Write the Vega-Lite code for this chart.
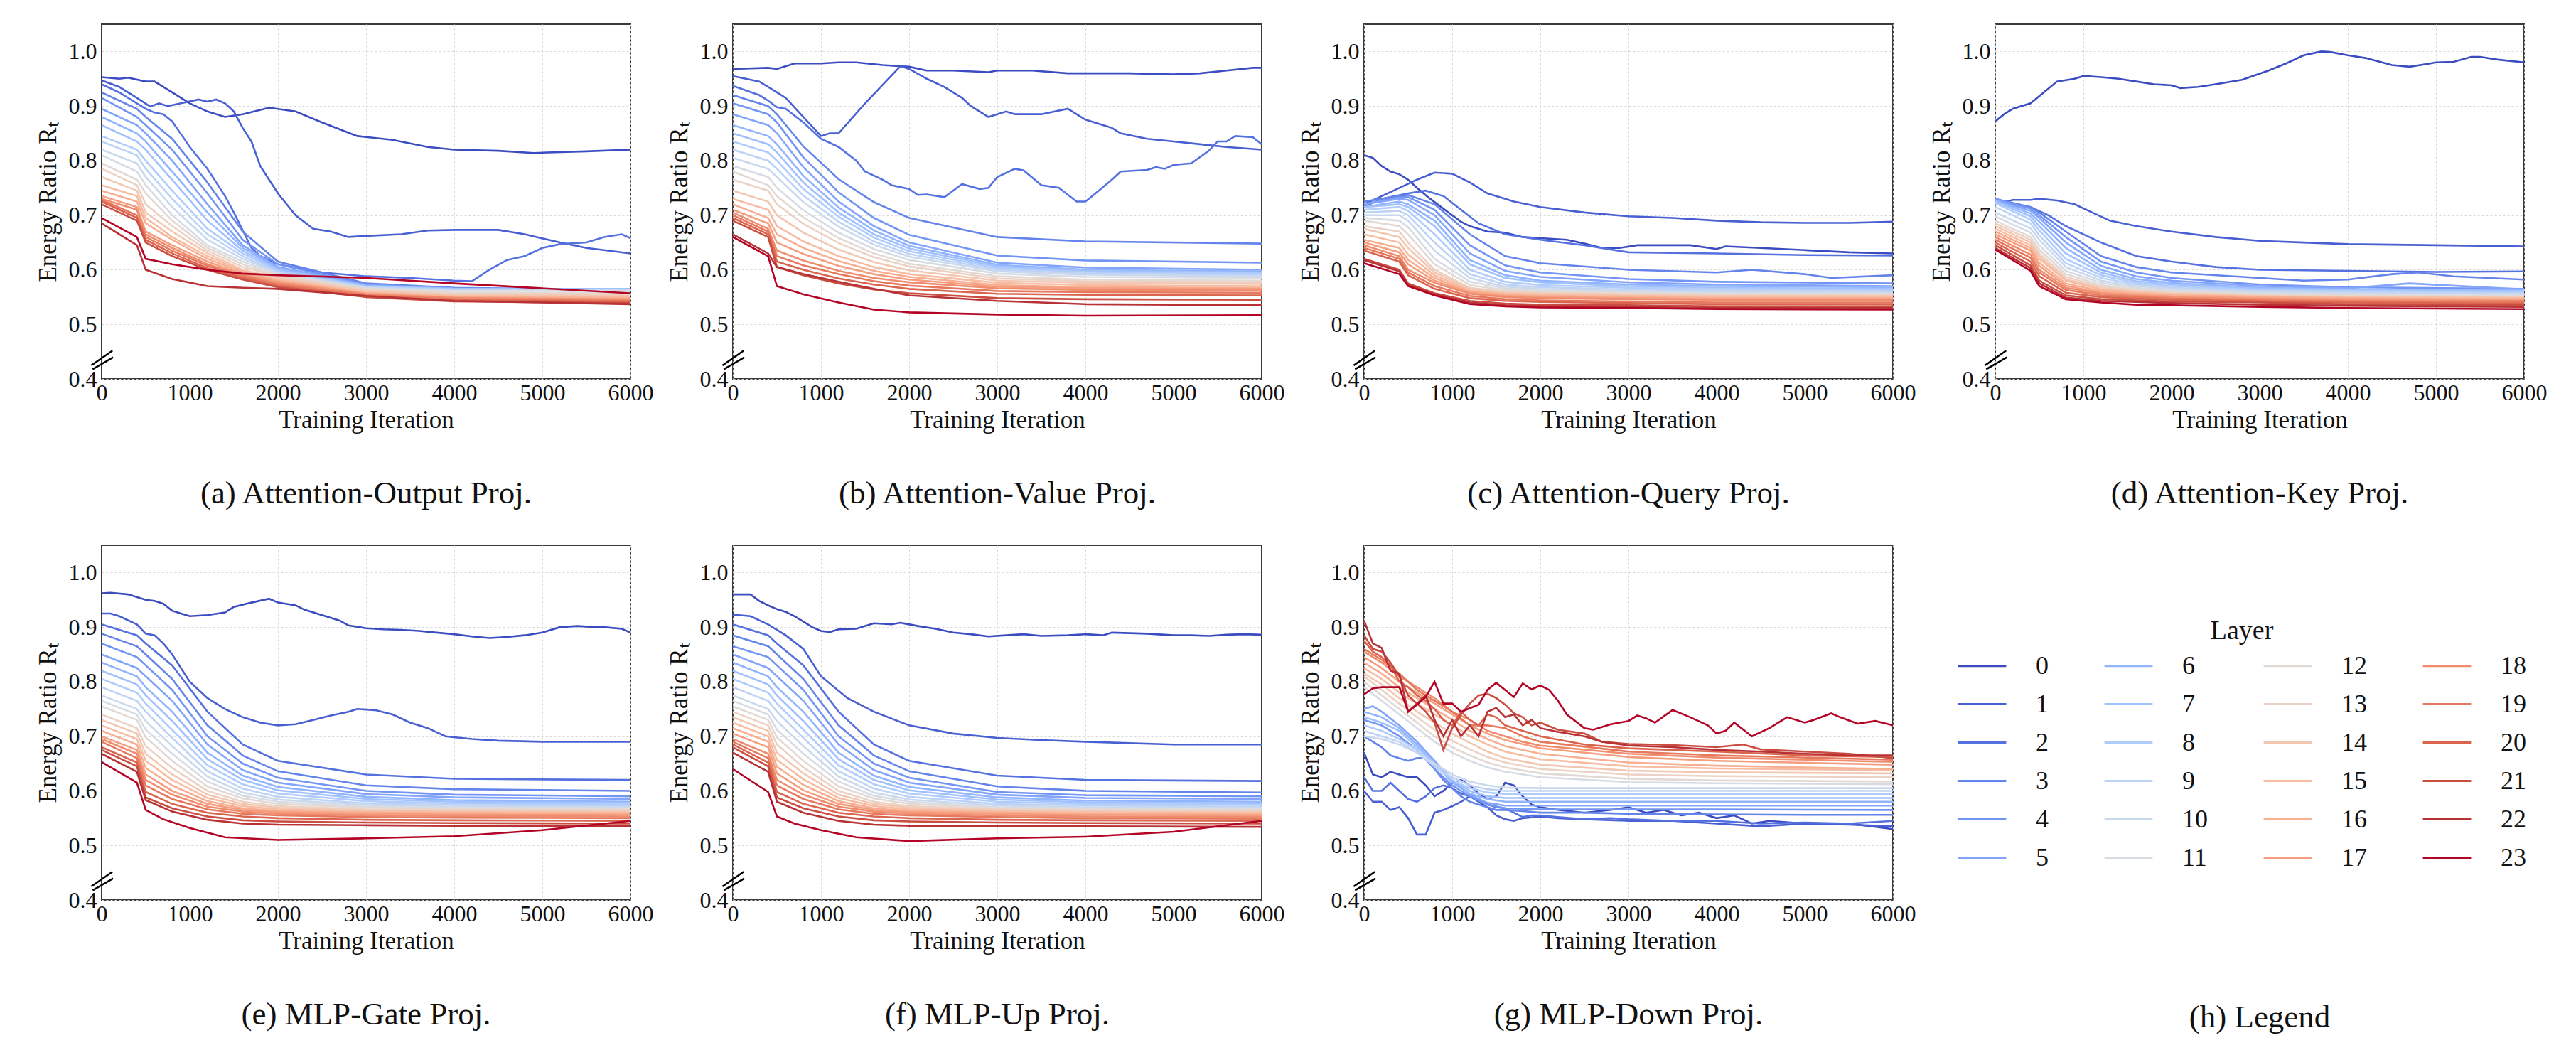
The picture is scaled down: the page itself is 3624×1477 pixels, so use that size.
{
"$schema":"https://vega.github.io/schema/vega-lite/v6.json",
"background":"white",
"padding":{"left":49,"top":33,"right":10,"bottom":10},
"config":{
"font":"Liberation Serif",
"view":{"stroke":"#3a3a3a","strokeWidth":2},
"axis":{"labelFont":"Liberation Serif","titleFont":"Liberation Serif","labelFontSize":32,"titleFontSize":35,"titleFontWeight":"normal","labelColor":"#111111","titleColor":"#111111","domain":false,"ticks":false,"grid":true,"gridColor":"#d9d9d9","gridDash":[3,3],"gridWidth":1,"labelFlush":false,"labelOverlap":false},
"title":{"font":"Liberation Serif","fontSize":45,"fontWeight":"normal","color":"#111111","orient":"bottom","offset":64,"anchor":"middle"},
"legend":{"labelFont":"Liberation Serif","titleFont":"Liberation Serif"}
},
"datasets":{
"brk":[{"x":-118,"y":0.4247,"x2":123,"y2":0.4517},{"x":-102,"y":0.4178,"x2":131,"y2":0.4395}],
"a":[
{"l":0,"x":0,"y":0.953},{"l":0,"x":200,"y":0.95},{"l":0,"x":300,"y":0.952},{"l":0,"x":500,"y":0.945},{"l":0,"x":600,"y":0.945},{"l":0,"x":800,"y":0.925},{"l":0,"x":1000,"y":0.905},{"l":0,"x":1200,"y":0.89},{"l":0,"x":1400,"y":0.88},{"l":0,"x":1600,"y":0.885},{"l":0,"x":1900,"y":0.897},{"l":0,"x":2200,"y":0.89},{"l":0,"x":2500,"y":0.87},{"l":0,"x":2900,"y":0.845},{"l":0,"x":3300,"y":0.838},{"l":0,"x":3700,"y":0.825},{"l":0,"x":4000,"y":0.82},{"l":0,"x":4500,"y":0.818},{"l":0,"x":4900,"y":0.814},{"l":0,"x":5500,"y":0.817},{"l":0,"x":6000,"y":0.82},
{"l":1,"x":0,"y":0.947},{"l":1,"x":200,"y":0.935},{"l":1,"x":400,"y":0.915},{"l":1,"x":550,"y":0.899},{"l":1,"x":650,"y":0.905},{"l":1,"x":750,"y":0.9},{"l":1,"x":900,"y":0.905},{"l":1,"x":1100,"y":0.912},{"l":1,"x":1200,"y":0.908},{"l":1,"x":1300,"y":0.912},{"l":1,"x":1400,"y":0.905},{"l":1,"x":1500,"y":0.89},{"l":1,"x":1600,"y":0.86},{"l":1,"x":1700,"y":0.835},{"l":1,"x":1800,"y":0.79},{"l":1,"x":2000,"y":0.74},{"l":1,"x":2200,"y":0.7},{"l":1,"x":2400,"y":0.675},{"l":1,"x":2600,"y":0.67},{"l":1,"x":2800,"y":0.66},{"l":1,"x":3000,"y":0.662},{"l":1,"x":3400,"y":0.665},{"l":1,"x":3700,"y":0.672},{"l":1,"x":4000,"y":0.673},{"l":1,"x":4500,"y":0.673},{"l":1,"x":4800,"y":0.665},{"l":1,"x":5200,"y":0.65},{"l":1,"x":5500,"y":0.64},{"l":1,"x":5700,"y":0.636},{"l":1,"x":6000,"y":0.63},
{"l":2,"x":0,"y":0.94},{"l":2,"x":200,"y":0.925},{"l":2,"x":400,"y":0.905},{"l":2,"x":500,"y":0.895},{"l":2,"x":600,"y":0.888},{"l":2,"x":700,"y":0.885},{"l":2,"x":800,"y":0.872},{"l":2,"x":1000,"y":0.825},{"l":2,"x":1200,"y":0.785},{"l":2,"x":1400,"y":0.735},{"l":2,"x":1500,"y":0.705},{"l":2,"x":1700,"y":0.64},{"l":2,"x":1800,"y":0.625},{"l":2,"x":2000,"y":0.61},{"l":2,"x":2500,"y":0.595},{"l":2,"x":3000,"y":0.588},{"l":2,"x":3500,"y":0.585},{"l":2,"x":4000,"y":0.58},{"l":2,"x":4200,"y":0.579},{"l":2,"x":4400,"y":0.6},{"l":2,"x":4600,"y":0.618},{"l":2,"x":4800,"y":0.625},{"l":2,"x":5000,"y":0.64},{"l":2,"x":5200,"y":0.647},{"l":2,"x":5500,"y":0.65},{"l":2,"x":5700,"y":0.66},{"l":2,"x":5900,"y":0.665},{"l":2,"x":6000,"y":0.658},
{"l":3,"x":0,"y":0.925},{"l":3,"x":400,"y":0.895},{"l":3,"x":500,"y":0.88},{"l":3,"x":800,"y":0.84},{"l":3,"x":1200,"y":0.76},{"l":3,"x":1600,"y":0.67},{"l":3,"x":2000,"y":0.615},{"l":3,"x":3000,"y":0.575},{"l":3,"x":4000,"y":0.567},{"l":3,"x":6000,"y":0.563},
{"l":4,"x":0,"y":0.915},{"l":4,"x":400,"y":0.88},{"l":4,"x":500,"y":0.865},{"l":4,"x":800,"y":0.82},{"l":4,"x":1200,"y":0.74},{"l":4,"x":1600,"y":0.655},{"l":4,"x":2000,"y":0.61},{"l":4,"x":3000,"y":0.573},{"l":4,"x":4000,"y":0.566},{"l":4,"x":6000,"y":0.562},
{"l":5,"x":0,"y":0.895},{"l":5,"x":400,"y":0.865},{"l":5,"x":500,"y":0.85},{"l":5,"x":800,"y":0.8},{"l":5,"x":1200,"y":0.72},{"l":5,"x":1600,"y":0.645},{"l":5,"x":2000,"y":0.605},{"l":5,"x":3000,"y":0.572},{"l":5,"x":4000,"y":0.565},{"l":5,"x":6000,"y":0.562},
{"l":6,"x":0,"y":0.88},{"l":6,"x":400,"y":0.85},{"l":6,"x":500,"y":0.835},{"l":6,"x":800,"y":0.78},{"l":6,"x":1200,"y":0.705},{"l":6,"x":1600,"y":0.64},{"l":6,"x":2000,"y":0.603},{"l":6,"x":3000,"y":0.571},{"l":6,"x":4000,"y":0.565},{"l":6,"x":6000,"y":0.564},
{"l":7,"x":0,"y":0.865},{"l":7,"x":400,"y":0.835},{"l":7,"x":500,"y":0.82},{"l":7,"x":800,"y":0.765},{"l":7,"x":1200,"y":0.69},{"l":7,"x":1600,"y":0.635},{"l":7,"x":2000,"y":0.6},{"l":7,"x":3000,"y":0.57},{"l":7,"x":4000,"y":0.565},{"l":7,"x":6000,"y":0.565},
{"l":8,"x":0,"y":0.845},{"l":8,"x":400,"y":0.82},{"l":8,"x":500,"y":0.8},{"l":8,"x":800,"y":0.745},{"l":8,"x":1200,"y":0.675},{"l":8,"x":1600,"y":0.63},{"l":8,"x":2000,"y":0.598},{"l":8,"x":3000,"y":0.569},{"l":8,"x":4000,"y":0.564},{"l":8,"x":6000,"y":0.563},
{"l":9,"x":0,"y":0.835},{"l":9,"x":400,"y":0.81},{"l":9,"x":500,"y":0.785},{"l":9,"x":800,"y":0.73},{"l":9,"x":1200,"y":0.665},{"l":9,"x":1600,"y":0.625},{"l":9,"x":2000,"y":0.595},{"l":9,"x":3000,"y":0.568},{"l":9,"x":4000,"y":0.563},{"l":9,"x":6000,"y":0.562},
{"l":10,"x":0,"y":0.82},{"l":10,"x":400,"y":0.795},{"l":10,"x":500,"y":0.77},{"l":10,"x":800,"y":0.715},{"l":10,"x":1200,"y":0.655},{"l":10,"x":1600,"y":0.62},{"l":10,"x":2000,"y":0.594},{"l":10,"x":3000,"y":0.567},{"l":10,"x":4000,"y":0.562},{"l":10,"x":6000,"y":0.562},
{"l":11,"x":0,"y":0.81},{"l":11,"x":400,"y":0.78},{"l":11,"x":500,"y":0.755},{"l":11,"x":800,"y":0.7},{"l":11,"x":1200,"y":0.645},{"l":11,"x":1600,"y":0.615},{"l":11,"x":2000,"y":0.592},{"l":11,"x":3000,"y":0.566},{"l":11,"x":4000,"y":0.561},{"l":11,"x":6000,"y":0.561},
{"l":12,"x":0,"y":0.795},{"l":12,"x":400,"y":0.765},{"l":12,"x":500,"y":0.74},{"l":12,"x":800,"y":0.69},{"l":12,"x":1200,"y":0.64},{"l":12,"x":1600,"y":0.61},{"l":12,"x":2000,"y":0.59},{"l":12,"x":3000,"y":0.565},{"l":12,"x":4000,"y":0.558},{"l":12,"x":6000,"y":0.557},
{"l":13,"x":0,"y":0.785},{"l":13,"x":400,"y":0.755},{"l":13,"x":500,"y":0.72},{"l":13,"x":800,"y":0.68},{"l":13,"x":1200,"y":0.635},{"l":13,"x":1600,"y":0.605},{"l":13,"x":2000,"y":0.588},{"l":13,"x":3000,"y":0.563},{"l":13,"x":4000,"y":0.556},{"l":13,"x":6000,"y":0.555},
{"l":14,"x":0,"y":0.77},{"l":14,"x":400,"y":0.745},{"l":14,"x":500,"y":0.705},{"l":14,"x":800,"y":0.67},{"l":14,"x":1200,"y":0.63},{"l":14,"x":1600,"y":0.6},{"l":14,"x":2000,"y":0.585},{"l":14,"x":3000,"y":0.561},{"l":14,"x":4000,"y":0.554},{"l":14,"x":6000,"y":0.552},
{"l":15,"x":0,"y":0.755},{"l":15,"x":400,"y":0.735},{"l":15,"x":500,"y":0.695},{"l":15,"x":800,"y":0.66},{"l":15,"x":1200,"y":0.625},{"l":15,"x":1600,"y":0.598},{"l":15,"x":2000,"y":0.582},{"l":15,"x":3000,"y":0.559},{"l":15,"x":4000,"y":0.552},{"l":15,"x":6000,"y":0.55},
{"l":16,"x":0,"y":0.745},{"l":16,"x":400,"y":0.725},{"l":16,"x":500,"y":0.685},{"l":16,"x":800,"y":0.655},{"l":16,"x":1200,"y":0.62},{"l":16,"x":1600,"y":0.595},{"l":16,"x":2000,"y":0.58},{"l":16,"x":3000,"y":0.557},{"l":16,"x":4000,"y":0.55},{"l":16,"x":6000,"y":0.548},
{"l":17,"x":0,"y":0.735},{"l":17,"x":400,"y":0.715},{"l":17,"x":500,"y":0.67},{"l":17,"x":800,"y":0.645},{"l":17,"x":1200,"y":0.615},{"l":17,"x":1600,"y":0.592},{"l":17,"x":2000,"y":0.578},{"l":17,"x":3000,"y":0.556},{"l":17,"x":4000,"y":0.549},{"l":17,"x":6000,"y":0.546},
{"l":18,"x":0,"y":0.73},{"l":18,"x":400,"y":0.71},{"l":18,"x":500,"y":0.665},{"l":18,"x":800,"y":0.64},{"l":18,"x":1200,"y":0.61},{"l":18,"x":1600,"y":0.59},{"l":18,"x":2000,"y":0.575},{"l":18,"x":3000,"y":0.555},{"l":18,"x":4000,"y":0.548},{"l":18,"x":6000,"y":0.545},
{"l":19,"x":0,"y":0.728},{"l":19,"x":400,"y":0.7},{"l":19,"x":500,"y":0.66},{"l":19,"x":800,"y":0.635},{"l":19,"x":1200,"y":0.607},{"l":19,"x":1600,"y":0.588},{"l":19,"x":2000,"y":0.573},{"l":19,"x":3000,"y":0.553},{"l":19,"x":4000,"y":0.546},{"l":19,"x":6000,"y":0.543},
{"l":20,"x":0,"y":0.725},{"l":20,"x":400,"y":0.695},{"l":20,"x":500,"y":0.655},{"l":20,"x":800,"y":0.63},{"l":20,"x":1200,"y":0.603},{"l":20,"x":1600,"y":0.585},{"l":20,"x":2000,"y":0.57},{"l":20,"x":3000,"y":0.551},{"l":20,"x":4000,"y":0.544},{"l":20,"x":6000,"y":0.541},
{"l":21,"x":0,"y":0.72},{"l":21,"x":400,"y":0.69},{"l":21,"x":500,"y":0.65},{"l":21,"x":800,"y":0.625},{"l":21,"x":1200,"y":0.6},{"l":21,"x":1600,"y":0.582},{"l":21,"x":2000,"y":0.568},{"l":21,"x":3000,"y":0.55},{"l":21,"x":4000,"y":0.542},{"l":21,"x":6000,"y":0.539},
{"l":22,"x":0,"y":0.685},{"l":22,"x":400,"y":0.645},{"l":22,"x":500,"y":0.6},{"l":22,"x":800,"y":0.583},{"l":22,"x":1200,"y":0.57},{"l":22,"x":1600,"y":0.567},{"l":22,"x":2000,"y":0.565},{"l":22,"x":3000,"y":0.552},{"l":22,"x":4000,"y":0.543},{"l":22,"x":6000,"y":0.537},
{"l":23,"x":0,"y":0.695},{"l":23,"x":400,"y":0.66},{"l":23,"x":500,"y":0.62},{"l":23,"x":800,"y":0.61},{"l":23,"x":1200,"y":0.6},{"l":23,"x":1600,"y":0.593},{"l":23,"x":2000,"y":0.59},{"l":23,"x":3000,"y":0.585},{"l":23,"x":4000,"y":0.575},{"l":23,"x":6000,"y":0.557}
],
"b":[
{"l":0,"x":0,"y":0.968},{"l":0,"x":400,"y":0.97},{"l":0,"x":500,"y":0.968},{"l":0,"x":700,"y":0.978},{"l":0,"x":1000,"y":0.978},{"l":0,"x":1200,"y":0.98},{"l":0,"x":1400,"y":0.98},{"l":0,"x":1700,"y":0.975},{"l":0,"x":2000,"y":0.972},{"l":0,"x":2200,"y":0.965},{"l":0,"x":2500,"y":0.965},{"l":0,"x":2900,"y":0.962},{"l":0,"x":3000,"y":0.965},{"l":0,"x":3400,"y":0.965},{"l":0,"x":3800,"y":0.96},{"l":0,"x":4500,"y":0.96},{"l":0,"x":5000,"y":0.958},{"l":0,"x":5300,"y":0.96},{"l":0,"x":5600,"y":0.965},{"l":0,"x":5900,"y":0.97},{"l":0,"x":6000,"y":0.97},
{"l":1,"x":0,"y":0.955},{"l":1,"x":300,"y":0.945},{"l":1,"x":500,"y":0.925},{"l":1,"x":600,"y":0.915},{"l":1,"x":800,"y":0.88},{"l":1,"x":1000,"y":0.845},{"l":1,"x":1100,"y":0.85},{"l":1,"x":1200,"y":0.85},{"l":1,"x":1500,"y":0.905},{"l":1,"x":1900,"y":0.973},{"l":1,"x":2000,"y":0.968},{"l":1,"x":2200,"y":0.95},{"l":1,"x":2400,"y":0.935},{"l":1,"x":2600,"y":0.915},{"l":1,"x":2700,"y":0.9},{"l":1,"x":2900,"y":0.88},{"l":1,"x":3100,"y":0.89},{"l":1,"x":3200,"y":0.885},{"l":1,"x":3500,"y":0.885},{"l":1,"x":3800,"y":0.895},{"l":1,"x":4000,"y":0.875},{"l":1,"x":4200,"y":0.865},{"l":1,"x":4300,"y":0.86},{"l":1,"x":4400,"y":0.85},{"l":1,"x":4700,"y":0.84},{"l":1,"x":5000,"y":0.835},{"l":1,"x":5300,"y":0.83},{"l":1,"x":5600,"y":0.825},{"l":1,"x":6000,"y":0.82},
{"l":2,"x":0,"y":0.937},{"l":2,"x":300,"y":0.92},{"l":2,"x":400,"y":0.91},{"l":2,"x":500,"y":0.898},{"l":2,"x":600,"y":0.895},{"l":2,"x":800,"y":0.87},{"l":2,"x":1000,"y":0.84},{"l":2,"x":1200,"y":0.825},{"l":2,"x":1400,"y":0.8},{"l":2,"x":1500,"y":0.78},{"l":2,"x":1700,"y":0.765},{"l":2,"x":1800,"y":0.755},{"l":2,"x":2000,"y":0.748},{"l":2,"x":2100,"y":0.737},{"l":2,"x":2200,"y":0.738},{"l":2,"x":2400,"y":0.733},{"l":2,"x":2600,"y":0.757},{"l":2,"x":2800,"y":0.748},{"l":2,"x":2900,"y":0.75},{"l":2,"x":3000,"y":0.77},{"l":2,"x":3200,"y":0.785},{"l":2,"x":3300,"y":0.782},{"l":2,"x":3500,"y":0.755},{"l":2,"x":3700,"y":0.75},{"l":2,"x":3900,"y":0.725},{"l":2,"x":4000,"y":0.725},{"l":2,"x":4100,"y":0.738},{"l":2,"x":4300,"y":0.765},{"l":2,"x":4400,"y":0.78},{"l":2,"x":4700,"y":0.783},{"l":2,"x":4800,"y":0.788},{"l":2,"x":4900,"y":0.785},{"l":2,"x":5000,"y":0.792},{"l":2,"x":5200,"y":0.795},{"l":2,"x":5400,"y":0.818},{"l":2,"x":5500,"y":0.835},{"l":2,"x":5600,"y":0.835},{"l":2,"x":5700,"y":0.845},{"l":2,"x":5900,"y":0.843},{"l":2,"x":6000,"y":0.83},
{"l":3,"x":0,"y":0.92},{"l":3,"x":400,"y":0.9},{"l":3,"x":500,"y":0.885},{"l":3,"x":800,"y":0.826},{"l":3,"x":1200,"y":0.766},{"l":3,"x":1600,"y":0.724},{"l":3,"x":2000,"y":0.695},{"l":3,"x":3000,"y":0.66},{"l":3,"x":4000,"y":0.652},{"l":3,"x":6000,"y":0.648},
{"l":4,"x":0,"y":0.905},{"l":4,"x":400,"y":0.885},{"l":4,"x":500,"y":0.87},{"l":4,"x":800,"y":0.806},{"l":4,"x":1200,"y":0.742},{"l":4,"x":1600,"y":0.695},{"l":4,"x":2000,"y":0.664},{"l":4,"x":3000,"y":0.626},{"l":4,"x":4000,"y":0.617},{"l":4,"x":6000,"y":0.613},
{"l":5,"x":0,"y":0.885},{"l":5,"x":400,"y":0.865},{"l":5,"x":500,"y":0.85},{"l":5,"x":800,"y":0.788},{"l":5,"x":1200,"y":0.725},{"l":5,"x":1600,"y":0.68},{"l":5,"x":2000,"y":0.65},{"l":5,"x":3000,"y":0.613},{"l":5,"x":4000,"y":0.604},{"l":5,"x":6000,"y":0.6},
{"l":6,"x":0,"y":0.865},{"l":6,"x":400,"y":0.845},{"l":6,"x":500,"y":0.83},{"l":6,"x":800,"y":0.772},{"l":6,"x":1200,"y":0.714},{"l":6,"x":1600,"y":0.672},{"l":6,"x":2000,"y":0.644},{"l":6,"x":3000,"y":0.609},{"l":6,"x":4000,"y":0.6},{"l":6,"x":6000,"y":0.597},
{"l":7,"x":0,"y":0.85},{"l":7,"x":400,"y":0.83},{"l":7,"x":500,"y":0.815},{"l":7,"x":800,"y":0.76},{"l":7,"x":1200,"y":0.705},{"l":7,"x":1600,"y":0.665},{"l":7,"x":2000,"y":0.639},{"l":7,"x":3000,"y":0.606},{"l":7,"x":4000,"y":0.598},{"l":7,"x":6000,"y":0.595},
{"l":8,"x":0,"y":0.835},{"l":8,"x":400,"y":0.815},{"l":8,"x":500,"y":0.8},{"l":8,"x":800,"y":0.748},{"l":8,"x":1200,"y":0.697},{"l":8,"x":1600,"y":0.659},{"l":8,"x":2000,"y":0.634},{"l":8,"x":3000,"y":0.603},{"l":8,"x":4000,"y":0.596},{"l":8,"x":6000,"y":0.593},
{"l":9,"x":0,"y":0.82},{"l":9,"x":400,"y":0.8},{"l":9,"x":500,"y":0.785},{"l":9,"x":800,"y":0.736},{"l":9,"x":1200,"y":0.688},{"l":9,"x":1600,"y":0.652},{"l":9,"x":2000,"y":0.629},{"l":9,"x":3000,"y":0.6},{"l":9,"x":4000,"y":0.593},{"l":9,"x":6000,"y":0.59},
{"l":10,"x":0,"y":0.805},{"l":10,"x":400,"y":0.785},{"l":10,"x":500,"y":0.77},{"l":10,"x":800,"y":0.724},{"l":10,"x":1200,"y":0.679},{"l":10,"x":1600,"y":0.646},{"l":10,"x":2000,"y":0.624},{"l":10,"x":3000,"y":0.597},{"l":10,"x":4000,"y":0.591},{"l":10,"x":6000,"y":0.588},
{"l":11,"x":0,"y":0.79},{"l":11,"x":400,"y":0.77},{"l":11,"x":500,"y":0.75},{"l":11,"x":800,"y":0.709},{"l":11,"x":1200,"y":0.668},{"l":11,"x":1600,"y":0.638},{"l":11,"x":2000,"y":0.618},{"l":11,"x":3000,"y":0.593},{"l":11,"x":4000,"y":0.587},{"l":11,"x":6000,"y":0.585},
{"l":12,"x":0,"y":0.78},{"l":12,"x":400,"y":0.755},{"l":12,"x":500,"y":0.735},{"l":12,"x":800,"y":0.696},{"l":12,"x":1200,"y":0.658},{"l":12,"x":1600,"y":0.63},{"l":12,"x":2000,"y":0.611},{"l":12,"x":3000,"y":0.588},{"l":12,"x":4000,"y":0.582},{"l":12,"x":6000,"y":0.58},
{"l":13,"x":0,"y":0.765},{"l":13,"x":400,"y":0.745},{"l":13,"x":500,"y":0.72},{"l":13,"x":800,"y":0.684},{"l":13,"x":1200,"y":0.649},{"l":13,"x":1600,"y":0.623},{"l":13,"x":2000,"y":0.606},{"l":13,"x":3000,"y":0.584},{"l":13,"x":4000,"y":0.579},{"l":13,"x":6000,"y":0.577},
{"l":14,"x":0,"y":0.745},{"l":14,"x":400,"y":0.725},{"l":14,"x":500,"y":0.7},{"l":14,"x":800,"y":0.668},{"l":14,"x":1200,"y":0.637},{"l":14,"x":1600,"y":0.614},{"l":14,"x":2000,"y":0.599},{"l":14,"x":3000,"y":0.58},{"l":14,"x":4000,"y":0.576},{"l":14,"x":6000,"y":0.574},
{"l":15,"x":0,"y":0.73},{"l":15,"x":400,"y":0.71},{"l":15,"x":500,"y":0.68},{"l":15,"x":800,"y":0.652},{"l":15,"x":1200,"y":0.625},{"l":15,"x":1600,"y":0.605},{"l":15,"x":2000,"y":0.592},{"l":15,"x":3000,"y":0.576},{"l":15,"x":4000,"y":0.572},{"l":15,"x":6000,"y":0.57},
{"l":16,"x":0,"y":0.72},{"l":16,"x":400,"y":0.695},{"l":16,"x":500,"y":0.665},{"l":16,"x":800,"y":0.64},{"l":16,"x":1200,"y":0.616},{"l":16,"x":1600,"y":0.598},{"l":16,"x":2000,"y":0.587},{"l":16,"x":3000,"y":0.572},{"l":16,"x":4000,"y":0.568},{"l":16,"x":6000,"y":0.567},
{"l":17,"x":0,"y":0.71},{"l":17,"x":400,"y":0.685},{"l":17,"x":500,"y":0.65},{"l":17,"x":800,"y":0.629},{"l":17,"x":1200,"y":0.607},{"l":17,"x":1600,"y":0.592},{"l":17,"x":2000,"y":0.582},{"l":17,"x":3000,"y":0.569},{"l":17,"x":4000,"y":0.566},{"l":17,"x":6000,"y":0.565},
{"l":18,"x":0,"y":0.705},{"l":18,"x":400,"y":0.675},{"l":18,"x":500,"y":0.635},{"l":18,"x":800,"y":0.617},{"l":18,"x":1200,"y":0.598},{"l":18,"x":1600,"y":0.585},{"l":18,"x":2000,"y":0.577},{"l":18,"x":3000,"y":0.566},{"l":18,"x":4000,"y":0.563},{"l":18,"x":6000,"y":0.562},
{"l":19,"x":0,"y":0.7},{"l":19,"x":400,"y":0.67},{"l":19,"x":500,"y":0.625},{"l":19,"x":800,"y":0.608},{"l":19,"x":1200,"y":0.592},{"l":19,"x":1600,"y":0.579},{"l":19,"x":2000,"y":0.571},{"l":19,"x":3000,"y":0.561},{"l":19,"x":4000,"y":0.559},{"l":19,"x":6000,"y":0.558},
{"l":20,"x":0,"y":0.695},{"l":20,"x":400,"y":0.665},{"l":20,"x":500,"y":0.615},{"l":20,"x":800,"y":0.6},{"l":20,"x":1200,"y":0.584},{"l":20,"x":1600,"y":0.573},{"l":20,"x":2000,"y":0.565},{"l":20,"x":3000,"y":0.556},{"l":20,"x":4000,"y":0.554},{"l":20,"x":6000,"y":0.553},
{"l":21,"x":0,"y":0.69},{"l":21,"x":400,"y":0.66},{"l":21,"x":500,"y":0.605},{"l":21,"x":800,"y":0.59},{"l":21,"x":1200,"y":0.575},{"l":21,"x":1600,"y":0.564},{"l":21,"x":2000,"y":0.557},{"l":21,"x":3000,"y":0.548},{"l":21,"x":4000,"y":0.546},{"l":21,"x":6000,"y":0.545},
{"l":22,"x":0,"y":0.665},{"l":22,"x":400,"y":0.63},{"l":22,"x":500,"y":0.605},{"l":22,"x":800,"y":0.592},{"l":22,"x":1200,"y":0.578},{"l":22,"x":1600,"y":0.565},{"l":22,"x":2000,"y":0.553},{"l":22,"x":3000,"y":0.543},{"l":22,"x":4000,"y":0.537},{"l":22,"x":6000,"y":0.535},
{"l":23,"x":0,"y":0.66},{"l":23,"x":400,"y":0.625},{"l":23,"x":500,"y":0.57},{"l":23,"x":800,"y":0.555},{"l":23,"x":1200,"y":0.54},{"l":23,"x":1600,"y":0.527},{"l":23,"x":2000,"y":0.522},{"l":23,"x":3000,"y":0.518},{"l":23,"x":4000,"y":0.516},{"l":23,"x":6000,"y":0.517}
],
"c":[
{"l":0,"x":0,"y":0.81},{"l":0,"x":100,"y":0.805},{"l":0,"x":200,"y":0.79},{"l":0,"x":300,"y":0.78},{"l":0,"x":400,"y":0.775},{"l":0,"x":500,"y":0.765},{"l":0,"x":600,"y":0.75},{"l":0,"x":750,"y":0.73},{"l":0,"x":1000,"y":0.7},{"l":0,"x":1100,"y":0.688},{"l":0,"x":1200,"y":0.68},{"l":0,"x":1400,"y":0.67},{"l":0,"x":1600,"y":0.668},{"l":0,"x":1800,"y":0.66},{"l":0,"x":2000,"y":0.658},{"l":0,"x":2300,"y":0.655},{"l":0,"x":2500,"y":0.648},{"l":0,"x":2700,"y":0.64},{"l":0,"x":2900,"y":0.64},{"l":0,"x":3100,"y":0.645},{"l":0,"x":3300,"y":0.645},{"l":0,"x":3700,"y":0.645},{"l":0,"x":4000,"y":0.638},{"l":0,"x":4100,"y":0.643},{"l":0,"x":4500,"y":0.64},{"l":0,"x":5000,"y":0.636},{"l":0,"x":5500,"y":0.632},{"l":0,"x":6000,"y":0.63},
{"l":1,"x":0,"y":0.72},{"l":1,"x":200,"y":0.735},{"l":1,"x":400,"y":0.75},{"l":1,"x":600,"y":0.765},{"l":1,"x":800,"y":0.778},{"l":1,"x":1000,"y":0.776},{"l":1,"x":1200,"y":0.76},{"l":1,"x":1400,"y":0.74},{"l":1,"x":1700,"y":0.725},{"l":1,"x":2000,"y":0.715},{"l":1,"x":2500,"y":0.705},{"l":1,"x":3000,"y":0.698},{"l":1,"x":3500,"y":0.695},{"l":1,"x":4000,"y":0.69},{"l":1,"x":4500,"y":0.687},{"l":1,"x":5000,"y":0.686},{"l":1,"x":5500,"y":0.686},{"l":1,"x":6000,"y":0.688},
{"l":2,"x":0,"y":0.715},{"l":2,"x":200,"y":0.73},{"l":2,"x":500,"y":0.74},{"l":2,"x":700,"y":0.745},{"l":2,"x":900,"y":0.735},{"l":2,"x":1100,"y":0.71},{"l":2,"x":1300,"y":0.685},{"l":2,"x":1600,"y":0.665},{"l":2,"x":2000,"y":0.655},{"l":2,"x":2500,"y":0.645},{"l":2,"x":3000,"y":0.632},{"l":2,"x":4000,"y":0.63},{"l":2,"x":5000,"y":0.627},{"l":2,"x":6000,"y":0.626},
{"l":3,"x":0,"y":0.725},{"l":3,"x":400,"y":0.735},{"l":3,"x":500,"y":0.737},{"l":3,"x":800,"y":0.72},{"l":3,"x":1200,"y":0.665},{"l":3,"x":1600,"y":0.625},{"l":3,"x":2000,"y":0.612},{"l":3,"x":3000,"y":0.6},{"l":3,"x":4000,"y":0.595},{"l":3,"x":4400,"y":0.6},{"l":3,"x":5000,"y":0.592},{"l":3,"x":5300,"y":0.585},{"l":3,"x":6000,"y":0.59},
{"l":4,"x":0,"y":0.72},{"l":4,"x":400,"y":0.733},{"l":4,"x":500,"y":0.733},{"l":4,"x":800,"y":0.71},{"l":4,"x":1200,"y":0.645},{"l":4,"x":1600,"y":0.608},{"l":4,"x":2000,"y":0.595},{"l":4,"x":3000,"y":0.583},{"l":4,"x":4000,"y":0.578},{"l":4,"x":6000,"y":0.575},
{"l":5,"x":0,"y":0.72},{"l":5,"x":400,"y":0.73},{"l":5,"x":500,"y":0.728},{"l":5,"x":800,"y":0.7},{"l":5,"x":1200,"y":0.63},{"l":5,"x":1600,"y":0.598},{"l":5,"x":2000,"y":0.587},{"l":5,"x":3000,"y":0.577},{"l":5,"x":4000,"y":0.573},{"l":5,"x":6000,"y":0.57},
{"l":6,"x":0,"y":0.715},{"l":6,"x":400,"y":0.725},{"l":6,"x":500,"y":0.72},{"l":6,"x":800,"y":0.69},{"l":6,"x":1200,"y":0.618},{"l":6,"x":1600,"y":0.59},{"l":6,"x":2000,"y":0.58},{"l":6,"x":3000,"y":0.573},{"l":6,"x":4000,"y":0.57},{"l":6,"x":6000,"y":0.568},
{"l":7,"x":0,"y":0.715},{"l":7,"x":400,"y":0.72},{"l":7,"x":500,"y":0.715},{"l":7,"x":800,"y":0.68},{"l":7,"x":1200,"y":0.61},{"l":7,"x":1600,"y":0.585},{"l":7,"x":2000,"y":0.577},{"l":7,"x":3000,"y":0.57},{"l":7,"x":4000,"y":0.567},{"l":7,"x":6000,"y":0.565},
{"l":8,"x":0,"y":0.71},{"l":8,"x":400,"y":0.715},{"l":8,"x":500,"y":0.708},{"l":8,"x":800,"y":0.665},{"l":8,"x":1200,"y":0.6},{"l":8,"x":1600,"y":0.578},{"l":8,"x":2000,"y":0.572},{"l":8,"x":3000,"y":0.567},{"l":8,"x":4000,"y":0.565},{"l":8,"x":6000,"y":0.563},
{"l":9,"x":0,"y":0.705},{"l":9,"x":400,"y":0.708},{"l":9,"x":500,"y":0.7},{"l":9,"x":800,"y":0.65},{"l":9,"x":1200,"y":0.592},{"l":9,"x":1600,"y":0.573},{"l":9,"x":2000,"y":0.568},{"l":9,"x":3000,"y":0.564},{"l":9,"x":4000,"y":0.562},{"l":9,"x":6000,"y":0.56},
{"l":10,"x":0,"y":0.7},{"l":10,"x":400,"y":0.7},{"l":10,"x":500,"y":0.69},{"l":10,"x":800,"y":0.635},{"l":10,"x":1200,"y":0.585},{"l":10,"x":1600,"y":0.569},{"l":10,"x":2000,"y":0.565},{"l":10,"x":3000,"y":0.561},{"l":10,"x":4000,"y":0.559},{"l":10,"x":6000,"y":0.558},
{"l":11,"x":0,"y":0.695},{"l":11,"x":400,"y":0.69},{"l":11,"x":500,"y":0.678},{"l":11,"x":800,"y":0.62},{"l":11,"x":1200,"y":0.578},{"l":11,"x":1600,"y":0.566},{"l":11,"x":2000,"y":0.562},{"l":11,"x":3000,"y":0.559},{"l":11,"x":4000,"y":0.557},{"l":11,"x":6000,"y":0.556},
{"l":12,"x":0,"y":0.69},{"l":12,"x":400,"y":0.68},{"l":12,"x":500,"y":0.665},{"l":12,"x":800,"y":0.61},{"l":12,"x":1200,"y":0.572},{"l":12,"x":1600,"y":0.563},{"l":12,"x":2000,"y":0.56},{"l":12,"x":3000,"y":0.557},{"l":12,"x":4000,"y":0.555},{"l":12,"x":6000,"y":0.555},
{"l":13,"x":0,"y":0.68},{"l":13,"x":400,"y":0.67},{"l":13,"x":500,"y":0.65},{"l":13,"x":800,"y":0.6},{"l":13,"x":1200,"y":0.567},{"l":13,"x":1600,"y":0.56},{"l":13,"x":2000,"y":0.558},{"l":13,"x":3000,"y":0.555},{"l":13,"x":4000,"y":0.554},{"l":13,"x":6000,"y":0.553},
{"l":14,"x":0,"y":0.675},{"l":14,"x":400,"y":0.66},{"l":14,"x":500,"y":0.64},{"l":14,"x":800,"y":0.595},{"l":14,"x":1200,"y":0.565},{"l":14,"x":1600,"y":0.558},{"l":14,"x":2000,"y":0.556},{"l":14,"x":3000,"y":0.554},{"l":14,"x":4000,"y":0.552},{"l":14,"x":6000,"y":0.552},
{"l":15,"x":0,"y":0.665},{"l":15,"x":400,"y":0.65},{"l":15,"x":500,"y":0.628},{"l":15,"x":800,"y":0.59},{"l":15,"x":1200,"y":0.562},{"l":15,"x":1600,"y":0.556},{"l":15,"x":2000,"y":0.554},{"l":15,"x":3000,"y":0.552},{"l":15,"x":4000,"y":0.55},{"l":15,"x":6000,"y":0.55},
{"l":16,"x":0,"y":0.655},{"l":16,"x":400,"y":0.64},{"l":16,"x":500,"y":0.618},{"l":16,"x":800,"y":0.585},{"l":16,"x":1200,"y":0.56},{"l":16,"x":1600,"y":0.554},{"l":16,"x":2000,"y":0.552},{"l":16,"x":3000,"y":0.55},{"l":16,"x":4000,"y":0.548},{"l":16,"x":6000,"y":0.548},
{"l":17,"x":0,"y":0.65},{"l":17,"x":400,"y":0.632},{"l":17,"x":500,"y":0.61},{"l":17,"x":800,"y":0.58},{"l":17,"x":1200,"y":0.558},{"l":17,"x":1600,"y":0.552},{"l":17,"x":2000,"y":0.55},{"l":17,"x":3000,"y":0.548},{"l":17,"x":4000,"y":0.546},{"l":17,"x":6000,"y":0.546},
{"l":18,"x":0,"y":0.645},{"l":18,"x":400,"y":0.625},{"l":18,"x":500,"y":0.6},{"l":18,"x":800,"y":0.576},{"l":18,"x":1200,"y":0.556},{"l":18,"x":1600,"y":0.55},{"l":18,"x":2000,"y":0.548},{"l":18,"x":3000,"y":0.546},{"l":18,"x":4000,"y":0.545},{"l":18,"x":6000,"y":0.545},
{"l":19,"x":0,"y":0.64},{"l":19,"x":400,"y":0.62},{"l":19,"x":500,"y":0.595},{"l":19,"x":800,"y":0.57},{"l":19,"x":1200,"y":0.552},{"l":19,"x":1600,"y":0.546},{"l":19,"x":2000,"y":0.544},{"l":19,"x":3000,"y":0.542},{"l":19,"x":4000,"y":0.54},{"l":19,"x":6000,"y":0.54},
{"l":20,"x":0,"y":0.635},{"l":20,"x":400,"y":0.615},{"l":20,"x":500,"y":0.59},{"l":20,"x":800,"y":0.565},{"l":20,"x":1200,"y":0.548},{"l":20,"x":1600,"y":0.543},{"l":20,"x":2000,"y":0.541},{"l":20,"x":3000,"y":0.539},{"l":20,"x":4000,"y":0.537},{"l":20,"x":6000,"y":0.537},
{"l":21,"x":0,"y":0.62},{"l":21,"x":400,"y":0.6},{"l":21,"x":500,"y":0.575},{"l":21,"x":800,"y":0.557},{"l":21,"x":1200,"y":0.543},{"l":21,"x":1600,"y":0.538},{"l":21,"x":2000,"y":0.536},{"l":21,"x":3000,"y":0.535},{"l":21,"x":4000,"y":0.533},{"l":21,"x":6000,"y":0.533},
{"l":22,"x":0,"y":0.618},{"l":22,"x":400,"y":0.597},{"l":22,"x":500,"y":0.572},{"l":22,"x":800,"y":0.555},{"l":22,"x":1200,"y":0.54},{"l":22,"x":1600,"y":0.535},{"l":22,"x":2000,"y":0.533},{"l":22,"x":3000,"y":0.532},{"l":22,"x":4000,"y":0.53},{"l":22,"x":6000,"y":0.53},
{"l":23,"x":0,"y":0.612},{"l":23,"x":400,"y":0.592},{"l":23,"x":500,"y":0.57},{"l":23,"x":800,"y":0.553},{"l":23,"x":1200,"y":0.537},{"l":23,"x":1600,"y":0.533},{"l":23,"x":2000,"y":0.531},{"l":23,"x":3000,"y":0.53},{"l":23,"x":4000,"y":0.528},{"l":23,"x":6000,"y":0.527}
],
"d":[
{"l":0,"x":0,"y":0.872},{"l":0,"x":100,"y":0.885},{"l":0,"x":200,"y":0.895},{"l":0,"x":400,"y":0.905},{"l":0,"x":550,"y":0.925},{"l":0,"x":700,"y":0.945},{"l":0,"x":900,"y":0.95},{"l":0,"x":1000,"y":0.955},{"l":0,"x":1200,"y":0.953},{"l":0,"x":1400,"y":0.95},{"l":0,"x":1600,"y":0.945},{"l":0,"x":1800,"y":0.94},{"l":0,"x":2000,"y":0.938},{"l":0,"x":2100,"y":0.933},{"l":0,"x":2300,"y":0.935},{"l":0,"x":2500,"y":0.94},{"l":0,"x":2800,"y":0.948},{"l":0,"x":3100,"y":0.965},{"l":0,"x":3300,"y":0.978},{"l":0,"x":3500,"y":0.993},{"l":0,"x":3700,"y":1.0},{"l":0,"x":3800,"y":0.999},{"l":0,"x":4000,"y":0.993},{"l":0,"x":4200,"y":0.988},{"l":0,"x":4500,"y":0.975},{"l":0,"x":4700,"y":0.972},{"l":0,"x":4900,"y":0.977},{"l":0,"x":5000,"y":0.98},{"l":0,"x":5200,"y":0.981},{"l":0,"x":5400,"y":0.99},{"l":0,"x":5500,"y":0.99},{"l":0,"x":5700,"y":0.985},{"l":0,"x":6000,"y":0.98},
{"l":1,"x":0,"y":0.72},{"l":1,"x":200,"y":0.728},{"l":1,"x":400,"y":0.728},{"l":1,"x":500,"y":0.73},{"l":1,"x":700,"y":0.727},{"l":1,"x":900,"y":0.72},{"l":1,"x":1100,"y":0.705},{"l":1,"x":1300,"y":0.69},{"l":1,"x":1600,"y":0.68},{"l":1,"x":2000,"y":0.67},{"l":1,"x":2500,"y":0.66},{"l":1,"x":3000,"y":0.653},{"l":1,"x":3500,"y":0.65},{"l":1,"x":4000,"y":0.647},{"l":1,"x":5000,"y":0.645},{"l":1,"x":6000,"y":0.643},
{"l":2,"x":0,"y":0.725},{"l":2,"x":400,"y":0.715},{"l":2,"x":600,"y":0.7},{"l":2,"x":800,"y":0.68},{"l":2,"x":1200,"y":0.65},{"l":2,"x":1600,"y":0.625},{"l":2,"x":2000,"y":0.615},{"l":2,"x":2500,"y":0.605},{"l":2,"x":3000,"y":0.6},{"l":2,"x":4000,"y":0.598},{"l":2,"x":5000,"y":0.596},{"l":2,"x":6000,"y":0.597},
{"l":3,"x":0,"y":0.73},{"l":3,"x":400,"y":0.715},{"l":3,"x":500,"y":0.705},{"l":3,"x":800,"y":0.67},{"l":3,"x":1200,"y":0.625},{"l":3,"x":1600,"y":0.605},{"l":3,"x":2000,"y":0.595},{"l":3,"x":3000,"y":0.585},{"l":3,"x":3500,"y":0.58},{"l":3,"x":4000,"y":0.582},{"l":3,"x":4500,"y":0.592},{"l":3,"x":4800,"y":0.595},{"l":3,"x":5200,"y":0.588},{"l":3,"x":6000,"y":0.582},
{"l":4,"x":0,"y":0.73},{"l":4,"x":400,"y":0.712},{"l":4,"x":500,"y":0.7},{"l":4,"x":800,"y":0.66},{"l":4,"x":1200,"y":0.615},{"l":4,"x":1600,"y":0.595},{"l":4,"x":2000,"y":0.585},{"l":4,"x":3000,"y":0.573},{"l":4,"x":4000,"y":0.568},{"l":4,"x":6000,"y":0.565},
{"l":5,"x":0,"y":0.728},{"l":5,"x":400,"y":0.708},{"l":5,"x":500,"y":0.695},{"l":5,"x":800,"y":0.65},{"l":5,"x":1200,"y":0.607},{"l":5,"x":1600,"y":0.588},{"l":5,"x":2000,"y":0.58},{"l":5,"x":3000,"y":0.57},{"l":5,"x":4000,"y":0.566},{"l":5,"x":4700,"y":0.575},{"l":5,"x":6000,"y":0.564},
{"l":6,"x":0,"y":0.727},{"l":6,"x":400,"y":0.703},{"l":6,"x":500,"y":0.688},{"l":6,"x":800,"y":0.64},{"l":6,"x":1200,"y":0.6},{"l":6,"x":1600,"y":0.583},{"l":6,"x":2000,"y":0.576},{"l":6,"x":3000,"y":0.567},{"l":6,"x":4000,"y":0.564},{"l":6,"x":6000,"y":0.563},
{"l":7,"x":0,"y":0.725},{"l":7,"x":400,"y":0.698},{"l":7,"x":500,"y":0.68},{"l":7,"x":800,"y":0.63},{"l":7,"x":1200,"y":0.595},{"l":7,"x":1600,"y":0.579},{"l":7,"x":2000,"y":0.573},{"l":7,"x":3000,"y":0.565},{"l":7,"x":4000,"y":0.563},{"l":7,"x":6000,"y":0.561},
{"l":8,"x":0,"y":0.722},{"l":8,"x":400,"y":0.692},{"l":8,"x":500,"y":0.672},{"l":8,"x":800,"y":0.62},{"l":8,"x":1200,"y":0.59},{"l":8,"x":1600,"y":0.576},{"l":8,"x":2000,"y":0.57},{"l":8,"x":3000,"y":0.563},{"l":8,"x":4000,"y":0.561},{"l":8,"x":6000,"y":0.559},
{"l":9,"x":0,"y":0.715},{"l":9,"x":400,"y":0.685},{"l":9,"x":500,"y":0.663},{"l":9,"x":800,"y":0.612},{"l":9,"x":1200,"y":0.585},{"l":9,"x":1600,"y":0.573},{"l":9,"x":2000,"y":0.567},{"l":9,"x":3000,"y":0.561},{"l":9,"x":4000,"y":0.559},{"l":9,"x":6000,"y":0.557},
{"l":10,"x":0,"y":0.705},{"l":10,"x":400,"y":0.676},{"l":10,"x":500,"y":0.655},{"l":10,"x":800,"y":0.605},{"l":10,"x":1200,"y":0.58},{"l":10,"x":1600,"y":0.57},{"l":10,"x":2000,"y":0.565},{"l":10,"x":3000,"y":0.559},{"l":10,"x":4000,"y":0.557},{"l":10,"x":6000,"y":0.555},
{"l":11,"x":0,"y":0.698},{"l":11,"x":400,"y":0.668},{"l":11,"x":500,"y":0.645},{"l":11,"x":800,"y":0.598},{"l":11,"x":1200,"y":0.576},{"l":11,"x":1600,"y":0.567},{"l":11,"x":2000,"y":0.562},{"l":11,"x":3000,"y":0.557},{"l":11,"x":4000,"y":0.555},{"l":11,"x":6000,"y":0.553},
{"l":12,"x":0,"y":0.69},{"l":12,"x":400,"y":0.66},{"l":12,"x":500,"y":0.637},{"l":12,"x":800,"y":0.592},{"l":12,"x":1200,"y":0.572},{"l":12,"x":1600,"y":0.564},{"l":12,"x":2000,"y":0.56},{"l":12,"x":3000,"y":0.555},{"l":12,"x":4000,"y":0.553},{"l":12,"x":6000,"y":0.551},
{"l":13,"x":0,"y":0.685},{"l":13,"x":400,"y":0.655},{"l":13,"x":500,"y":0.63},{"l":13,"x":800,"y":0.587},{"l":13,"x":1200,"y":0.569},{"l":13,"x":1600,"y":0.562},{"l":13,"x":2000,"y":0.558},{"l":13,"x":3000,"y":0.553},{"l":13,"x":4000,"y":0.551},{"l":13,"x":6000,"y":0.55},
{"l":14,"x":0,"y":0.68},{"l":14,"x":400,"y":0.65},{"l":14,"x":500,"y":0.625},{"l":14,"x":800,"y":0.583},{"l":14,"x":1200,"y":0.566},{"l":14,"x":1600,"y":0.56},{"l":14,"x":2000,"y":0.556},{"l":14,"x":3000,"y":0.552},{"l":14,"x":4000,"y":0.55},{"l":14,"x":6000,"y":0.549},
{"l":15,"x":0,"y":0.675},{"l":15,"x":400,"y":0.645},{"l":15,"x":500,"y":0.62},{"l":15,"x":800,"y":0.58},{"l":15,"x":1200,"y":0.564},{"l":15,"x":1600,"y":0.558},{"l":15,"x":2000,"y":0.555},{"l":15,"x":3000,"y":0.551},{"l":15,"x":4000,"y":0.549},{"l":15,"x":6000,"y":0.548},
{"l":16,"x":0,"y":0.67},{"l":16,"x":400,"y":0.64},{"l":16,"x":500,"y":0.613},{"l":16,"x":800,"y":0.575},{"l":16,"x":1200,"y":0.561},{"l":16,"x":1600,"y":0.556},{"l":16,"x":2000,"y":0.553},{"l":16,"x":3000,"y":0.55},{"l":16,"x":4000,"y":0.548},{"l":16,"x":6000,"y":0.546},
{"l":17,"x":0,"y":0.665},{"l":17,"x":400,"y":0.635},{"l":17,"x":500,"y":0.607},{"l":17,"x":800,"y":0.571},{"l":17,"x":1200,"y":0.558},{"l":17,"x":1600,"y":0.554},{"l":17,"x":2000,"y":0.551},{"l":17,"x":3000,"y":0.548},{"l":17,"x":4000,"y":0.546},{"l":17,"x":6000,"y":0.545},
{"l":18,"x":0,"y":0.66},{"l":18,"x":400,"y":0.628},{"l":18,"x":500,"y":0.6},{"l":18,"x":800,"y":0.567},{"l":18,"x":1200,"y":0.556},{"l":18,"x":1600,"y":0.552},{"l":18,"x":2000,"y":0.549},{"l":18,"x":3000,"y":0.546},{"l":18,"x":4000,"y":0.544},{"l":18,"x":6000,"y":0.543},
{"l":19,"x":0,"y":0.655},{"l":19,"x":400,"y":0.622},{"l":19,"x":500,"y":0.595},{"l":19,"x":800,"y":0.563},{"l":19,"x":1200,"y":0.553},{"l":19,"x":1600,"y":0.55},{"l":19,"x":2000,"y":0.547},{"l":19,"x":3000,"y":0.544},{"l":19,"x":4000,"y":0.542},{"l":19,"x":6000,"y":0.541},
{"l":20,"x":0,"y":0.65},{"l":20,"x":400,"y":0.615},{"l":20,"x":500,"y":0.588},{"l":20,"x":800,"y":0.558},{"l":20,"x":1200,"y":0.55},{"l":20,"x":1600,"y":0.547},{"l":20,"x":2000,"y":0.545},{"l":20,"x":3000,"y":0.542},{"l":20,"x":4000,"y":0.54},{"l":20,"x":6000,"y":0.538},
{"l":21,"x":0,"y":0.645},{"l":21,"x":400,"y":0.608},{"l":21,"x":500,"y":0.58},{"l":21,"x":800,"y":0.553},{"l":21,"x":1200,"y":0.546},{"l":21,"x":1600,"y":0.544},{"l":21,"x":2000,"y":0.542},{"l":21,"x":3000,"y":0.54},{"l":21,"x":4000,"y":0.537},{"l":21,"x":6000,"y":0.535},
{"l":22,"x":0,"y":0.64},{"l":22,"x":400,"y":0.603},{"l":22,"x":500,"y":0.575},{"l":22,"x":800,"y":0.549},{"l":22,"x":1200,"y":0.543},{"l":22,"x":1600,"y":0.541},{"l":22,"x":2000,"y":0.539},{"l":22,"x":3000,"y":0.536},{"l":22,"x":4000,"y":0.534},{"l":22,"x":6000,"y":0.532},
{"l":23,"x":0,"y":0.637},{"l":23,"x":400,"y":0.598},{"l":23,"x":500,"y":0.57},{"l":23,"x":800,"y":0.546},{"l":23,"x":1200,"y":0.54},{"l":23,"x":1600,"y":0.536},{"l":23,"x":2000,"y":0.535},{"l":23,"x":3000,"y":0.532},{"l":23,"x":4000,"y":0.53},{"l":23,"x":6000,"y":0.528}
],
"e":[
{"l":0,"x":0,"y":0.962},{"l":0,"x":100,"y":0.963},{"l":0,"x":300,"y":0.96},{"l":0,"x":500,"y":0.95},{"l":0,"x":600,"y":0.948},{"l":0,"x":700,"y":0.943},{"l":0,"x":800,"y":0.93},{"l":0,"x":1000,"y":0.92},{"l":0,"x":1200,"y":0.922},{"l":0,"x":1400,"y":0.927},{"l":0,"x":1500,"y":0.937},{"l":0,"x":1700,"y":0.945},{"l":0,"x":1900,"y":0.952},{"l":0,"x":2000,"y":0.945},{"l":0,"x":2200,"y":0.94},{"l":0,"x":2300,"y":0.932},{"l":0,"x":2500,"y":0.922},{"l":0,"x":2700,"y":0.912},{"l":0,"x":2800,"y":0.903},{"l":0,"x":3000,"y":0.898},{"l":0,"x":3200,"y":0.896},{"l":0,"x":3400,"y":0.895},{"l":0,"x":3600,"y":0.893},{"l":0,"x":3800,"y":0.89},{"l":0,"x":4000,"y":0.887},{"l":0,"x":4200,"y":0.883},{"l":0,"x":4400,"y":0.88},{"l":0,"x":4600,"y":0.882},{"l":0,"x":4800,"y":0.885},{"l":0,"x":5000,"y":0.89},{"l":0,"x":5200,"y":0.9},{"l":0,"x":5400,"y":0.902},{"l":0,"x":5600,"y":0.9},{"l":0,"x":5700,"y":0.9},{"l":0,"x":5900,"y":0.897},{"l":0,"x":6000,"y":0.89},
{"l":1,"x":0,"y":0.925},{"l":1,"x":100,"y":0.925},{"l":1,"x":200,"y":0.92},{"l":1,"x":400,"y":0.905},{"l":1,"x":500,"y":0.888},{"l":1,"x":600,"y":0.885},{"l":1,"x":700,"y":0.87},{"l":1,"x":800,"y":0.85},{"l":1,"x":1000,"y":0.8},{"l":1,"x":1200,"y":0.77},{"l":1,"x":1400,"y":0.75},{"l":1,"x":1600,"y":0.735},{"l":1,"x":1800,"y":0.725},{"l":1,"x":2000,"y":0.72},{"l":1,"x":2200,"y":0.722},{"l":1,"x":2400,"y":0.73},{"l":1,"x":2600,"y":0.738},{"l":1,"x":2800,"y":0.745},{"l":1,"x":2900,"y":0.75},{"l":1,"x":3100,"y":0.748},{"l":1,"x":3300,"y":0.74},{"l":1,"x":3500,"y":0.725},{"l":1,"x":3700,"y":0.715},{"l":1,"x":3900,"y":0.7},{"l":1,"x":4200,"y":0.695},{"l":1,"x":4500,"y":0.692},{"l":1,"x":5000,"y":0.69},{"l":1,"x":5500,"y":0.69},{"l":1,"x":6000,"y":0.69},
{"l":2,"x":0,"y":0.905},{"l":2,"x":400,"y":0.885},{"l":2,"x":500,"y":0.87},{"l":2,"x":800,"y":0.83},{"l":2,"x":1200,"y":0.745},{"l":2,"x":1600,"y":0.685},{"l":2,"x":2000,"y":0.655},{"l":2,"x":3000,"y":0.63},{"l":2,"x":4000,"y":0.622},{"l":2,"x":6000,"y":0.62},
{"l":3,"x":0,"y":0.888},{"l":3,"x":400,"y":0.865},{"l":3,"x":500,"y":0.85},{"l":3,"x":800,"y":0.805},{"l":3,"x":1200,"y":0.72},{"l":3,"x":1600,"y":0.665},{"l":3,"x":2000,"y":0.636},{"l":3,"x":3000,"y":0.61},{"l":3,"x":4000,"y":0.603},{"l":3,"x":6000,"y":0.6},
{"l":4,"x":0,"y":0.87},{"l":4,"x":400,"y":0.845},{"l":4,"x":500,"y":0.83},{"l":4,"x":800,"y":0.785},{"l":4,"x":1200,"y":0.7},{"l":4,"x":1600,"y":0.65},{"l":4,"x":2000,"y":0.624},{"l":4,"x":3000,"y":0.6},{"l":4,"x":4000,"y":0.593},{"l":4,"x":6000,"y":0.59},
{"l":5,"x":0,"y":0.85},{"l":5,"x":400,"y":0.825},{"l":5,"x":500,"y":0.81},{"l":5,"x":800,"y":0.765},{"l":5,"x":1200,"y":0.685},{"l":5,"x":1600,"y":0.638},{"l":5,"x":2000,"y":0.615},{"l":5,"x":3000,"y":0.594},{"l":5,"x":4000,"y":0.588},{"l":5,"x":6000,"y":0.585},
{"l":6,"x":0,"y":0.835},{"l":6,"x":400,"y":0.81},{"l":6,"x":500,"y":0.79},{"l":6,"x":800,"y":0.745},{"l":6,"x":1200,"y":0.67},{"l":6,"x":1600,"y":0.628},{"l":6,"x":2000,"y":0.607},{"l":6,"x":3000,"y":0.589},{"l":6,"x":4000,"y":0.583},{"l":6,"x":6000,"y":0.58},
{"l":7,"x":0,"y":0.82},{"l":7,"x":400,"y":0.795},{"l":7,"x":500,"y":0.775},{"l":7,"x":800,"y":0.728},{"l":7,"x":1200,"y":0.658},{"l":7,"x":1600,"y":0.62},{"l":7,"x":2000,"y":0.601},{"l":7,"x":3000,"y":0.585},{"l":7,"x":4000,"y":0.58},{"l":7,"x":6000,"y":0.578},
{"l":8,"x":0,"y":0.805},{"l":8,"x":400,"y":0.78},{"l":8,"x":500,"y":0.76},{"l":8,"x":800,"y":0.712},{"l":8,"x":1200,"y":0.647},{"l":8,"x":1600,"y":0.612},{"l":8,"x":2000,"y":0.595},{"l":8,"x":3000,"y":0.581},{"l":8,"x":4000,"y":0.577},{"l":8,"x":6000,"y":0.575},
{"l":9,"x":0,"y":0.79},{"l":9,"x":400,"y":0.765},{"l":9,"x":500,"y":0.745},{"l":9,"x":800,"y":0.697},{"l":9,"x":1200,"y":0.636},{"l":9,"x":1600,"y":0.604},{"l":9,"x":2000,"y":0.589},{"l":9,"x":3000,"y":0.577},{"l":9,"x":4000,"y":0.574},{"l":9,"x":6000,"y":0.572},
{"l":10,"x":0,"y":0.775},{"l":10,"x":400,"y":0.75},{"l":10,"x":500,"y":0.728},{"l":10,"x":800,"y":0.682},{"l":10,"x":1200,"y":0.626},{"l":10,"x":1600,"y":0.597},{"l":10,"x":2000,"y":0.584},{"l":10,"x":3000,"y":0.574},{"l":10,"x":4000,"y":0.571},{"l":10,"x":6000,"y":0.57},
{"l":11,"x":0,"y":0.765},{"l":11,"x":400,"y":0.74},{"l":11,"x":500,"y":0.712},{"l":11,"x":800,"y":0.668},{"l":11,"x":1200,"y":0.617},{"l":11,"x":1600,"y":0.591},{"l":11,"x":2000,"y":0.58},{"l":11,"x":3000,"y":0.571},{"l":11,"x":4000,"y":0.569},{"l":11,"x":6000,"y":0.568},
{"l":12,"x":0,"y":0.755},{"l":12,"x":400,"y":0.73},{"l":12,"x":500,"y":0.698},{"l":12,"x":800,"y":0.655},{"l":12,"x":1200,"y":0.608},{"l":12,"x":1600,"y":0.586},{"l":12,"x":2000,"y":0.576},{"l":12,"x":3000,"y":0.569},{"l":12,"x":4000,"y":0.567},{"l":12,"x":6000,"y":0.566},
{"l":13,"x":0,"y":0.74},{"l":13,"x":400,"y":0.715},{"l":13,"x":500,"y":0.682},{"l":13,"x":800,"y":0.642},{"l":13,"x":1200,"y":0.6},{"l":13,"x":1600,"y":0.58},{"l":13,"x":2000,"y":0.572},{"l":13,"x":3000,"y":0.566},{"l":13,"x":4000,"y":0.565},{"l":13,"x":6000,"y":0.564},
{"l":14,"x":0,"y":0.73},{"l":14,"x":400,"y":0.705},{"l":14,"x":500,"y":0.668},{"l":14,"x":800,"y":0.63},{"l":14,"x":1200,"y":0.593},{"l":14,"x":1600,"y":0.576},{"l":14,"x":2000,"y":0.569},{"l":14,"x":3000,"y":0.564},{"l":14,"x":4000,"y":0.563},{"l":14,"x":6000,"y":0.562},
{"l":15,"x":0,"y":0.72},{"l":15,"x":400,"y":0.695},{"l":15,"x":500,"y":0.655},{"l":15,"x":800,"y":0.62},{"l":15,"x":1200,"y":0.587},{"l":15,"x":1600,"y":0.572},{"l":15,"x":2000,"y":0.566},{"l":15,"x":3000,"y":0.562},{"l":15,"x":4000,"y":0.561},{"l":15,"x":6000,"y":0.56},
{"l":16,"x":0,"y":0.71},{"l":16,"x":400,"y":0.685},{"l":16,"x":500,"y":0.642},{"l":16,"x":800,"y":0.61},{"l":16,"x":1200,"y":0.581},{"l":16,"x":1600,"y":0.568},{"l":16,"x":2000,"y":0.563},{"l":16,"x":3000,"y":0.56},{"l":16,"x":4000,"y":0.559},{"l":16,"x":6000,"y":0.558},
{"l":17,"x":0,"y":0.7},{"l":17,"x":400,"y":0.675},{"l":17,"x":500,"y":0.63},{"l":17,"x":800,"y":0.6},{"l":17,"x":1200,"y":0.576},{"l":17,"x":1600,"y":0.565},{"l":17,"x":2000,"y":0.561},{"l":17,"x":3000,"y":0.558},{"l":17,"x":4000,"y":0.557},{"l":17,"x":6000,"y":0.556},
{"l":18,"x":0,"y":0.695},{"l":18,"x":400,"y":0.668},{"l":18,"x":500,"y":0.62},{"l":18,"x":800,"y":0.593},{"l":18,"x":1200,"y":0.571},{"l":18,"x":1600,"y":0.562},{"l":18,"x":2000,"y":0.558},{"l":18,"x":3000,"y":0.555},{"l":18,"x":4000,"y":0.554},{"l":18,"x":6000,"y":0.553},
{"l":19,"x":0,"y":0.69},{"l":19,"x":400,"y":0.66},{"l":19,"x":500,"y":0.61},{"l":19,"x":800,"y":0.585},{"l":19,"x":1200,"y":0.566},{"l":19,"x":1600,"y":0.558},{"l":19,"x":2000,"y":0.555},{"l":19,"x":3000,"y":0.552},{"l":19,"x":4000,"y":0.551},{"l":19,"x":6000,"y":0.55},
{"l":20,"x":0,"y":0.68},{"l":20,"x":400,"y":0.652},{"l":20,"x":500,"y":0.598},{"l":20,"x":800,"y":0.576},{"l":20,"x":1200,"y":0.56},{"l":20,"x":1600,"y":0.553},{"l":20,"x":2000,"y":0.55},{"l":20,"x":3000,"y":0.547},{"l":20,"x":4000,"y":0.546},{"l":20,"x":6000,"y":0.545},
{"l":21,"x":0,"y":0.675},{"l":21,"x":400,"y":0.645},{"l":21,"x":500,"y":0.588},{"l":21,"x":800,"y":0.568},{"l":21,"x":1200,"y":0.553},{"l":21,"x":1600,"y":0.546},{"l":21,"x":2000,"y":0.544},{"l":21,"x":3000,"y":0.542},{"l":21,"x":4000,"y":0.541},{"l":21,"x":6000,"y":0.54},
{"l":22,"x":0,"y":0.668},{"l":22,"x":400,"y":0.635},{"l":22,"x":500,"y":0.583},{"l":22,"x":800,"y":0.562},{"l":22,"x":1200,"y":0.547},{"l":22,"x":1600,"y":0.54},{"l":22,"x":2000,"y":0.538},{"l":22,"x":3000,"y":0.537},{"l":22,"x":4000,"y":0.536},{"l":22,"x":6000,"y":0.535},
{"l":23,"x":0,"y":0.653},{"l":23,"x":400,"y":0.615},{"l":23,"x":500,"y":0.565},{"l":23,"x":700,"y":0.548},{"l":23,"x":1000,"y":0.532},{"l":23,"x":1400,"y":0.515},{"l":23,"x":2000,"y":0.51},{"l":23,"x":3000,"y":0.513},{"l":23,"x":4000,"y":0.517},{"l":23,"x":5000,"y":0.528},{"l":23,"x":6000,"y":0.545}
],
"f":[
{"l":0,"x":0,"y":0.96},{"l":0,"x":200,"y":0.96},{"l":0,"x":300,"y":0.948},{"l":0,"x":400,"y":0.94},{"l":0,"x":500,"y":0.933},{"l":0,"x":600,"y":0.928},{"l":0,"x":700,"y":0.92},{"l":0,"x":800,"y":0.91},{"l":0,"x":900,"y":0.9},{"l":0,"x":1000,"y":0.893},{"l":0,"x":1100,"y":0.891},{"l":0,"x":1200,"y":0.896},{"l":0,"x":1400,"y":0.897},{"l":0,"x":1600,"y":0.907},{"l":0,"x":1800,"y":0.905},{"l":0,"x":1900,"y":0.908},{"l":0,"x":2100,"y":0.902},{"l":0,"x":2300,"y":0.897},{"l":0,"x":2500,"y":0.89},{"l":0,"x":2700,"y":0.887},{"l":0,"x":2900,"y":0.883},{"l":0,"x":3100,"y":0.885},{"l":0,"x":3300,"y":0.887},{"l":0,"x":3500,"y":0.884},{"l":0,"x":3800,"y":0.885},{"l":0,"x":4000,"y":0.887},{"l":0,"x":4200,"y":0.885},{"l":0,"x":4300,"y":0.89},{"l":0,"x":4700,"y":0.888},{"l":0,"x":5000,"y":0.885},{"l":0,"x":5200,"y":0.885},{"l":0,"x":5400,"y":0.884},{"l":0,"x":5600,"y":0.886},{"l":0,"x":5800,"y":0.887},{"l":0,"x":6000,"y":0.886},
{"l":1,"x":0,"y":0.923},{"l":1,"x":200,"y":0.92},{"l":1,"x":400,"y":0.905},{"l":1,"x":600,"y":0.885},{"l":1,"x":800,"y":0.86},{"l":1,"x":1000,"y":0.81},{"l":1,"x":1300,"y":0.77},{"l":1,"x":1600,"y":0.745},{"l":1,"x":2000,"y":0.72},{"l":1,"x":2500,"y":0.705},{"l":1,"x":3000,"y":0.697},{"l":1,"x":3500,"y":0.693},{"l":1,"x":4000,"y":0.69},{"l":1,"x":5000,"y":0.685},{"l":1,"x":6000,"y":0.685},
{"l":2,"x":0,"y":0.905},{"l":2,"x":400,"y":0.885},{"l":2,"x":500,"y":0.87},{"l":2,"x":800,"y":0.83},{"l":2,"x":1200,"y":0.745},{"l":2,"x":1600,"y":0.685},{"l":2,"x":2000,"y":0.655},{"l":2,"x":3000,"y":0.628},{"l":2,"x":4000,"y":0.62},{"l":2,"x":6000,"y":0.618},
{"l":3,"x":0,"y":0.885},{"l":3,"x":400,"y":0.865},{"l":3,"x":500,"y":0.85},{"l":3,"x":800,"y":0.805},{"l":3,"x":1200,"y":0.72},{"l":3,"x":1600,"y":0.665},{"l":3,"x":2000,"y":0.636},{"l":3,"x":3000,"y":0.608},{"l":3,"x":4000,"y":0.6},{"l":3,"x":6000,"y":0.597},
{"l":4,"x":0,"y":0.865},{"l":4,"x":400,"y":0.845},{"l":4,"x":500,"y":0.83},{"l":4,"x":800,"y":0.785},{"l":4,"x":1200,"y":0.7},{"l":4,"x":1600,"y":0.65},{"l":4,"x":2000,"y":0.624},{"l":4,"x":3000,"y":0.598},{"l":4,"x":4000,"y":0.592},{"l":4,"x":6000,"y":0.59},
{"l":5,"x":0,"y":0.85},{"l":5,"x":400,"y":0.825},{"l":5,"x":500,"y":0.81},{"l":5,"x":800,"y":0.765},{"l":5,"x":1200,"y":0.685},{"l":5,"x":1600,"y":0.638},{"l":5,"x":2000,"y":0.615},{"l":5,"x":3000,"y":0.593},{"l":5,"x":4000,"y":0.587},{"l":5,"x":6000,"y":0.585},
{"l":6,"x":0,"y":0.835},{"l":6,"x":400,"y":0.81},{"l":6,"x":500,"y":0.79},{"l":6,"x":800,"y":0.745},{"l":6,"x":1200,"y":0.67},{"l":6,"x":1600,"y":0.628},{"l":6,"x":2000,"y":0.607},{"l":6,"x":3000,"y":0.588},{"l":6,"x":4000,"y":0.582},{"l":6,"x":6000,"y":0.58},
{"l":7,"x":0,"y":0.82},{"l":7,"x":400,"y":0.795},{"l":7,"x":500,"y":0.775},{"l":7,"x":800,"y":0.728},{"l":7,"x":1200,"y":0.658},{"l":7,"x":1600,"y":0.62},{"l":7,"x":2000,"y":0.601},{"l":7,"x":3000,"y":0.584},{"l":7,"x":4000,"y":0.579},{"l":7,"x":6000,"y":0.577},
{"l":8,"x":0,"y":0.805},{"l":8,"x":400,"y":0.78},{"l":8,"x":500,"y":0.76},{"l":8,"x":800,"y":0.712},{"l":8,"x":1200,"y":0.647},{"l":8,"x":1600,"y":0.612},{"l":8,"x":2000,"y":0.595},{"l":8,"x":3000,"y":0.58},{"l":8,"x":4000,"y":0.576},{"l":8,"x":6000,"y":0.574},
{"l":9,"x":0,"y":0.79},{"l":9,"x":400,"y":0.765},{"l":9,"x":500,"y":0.745},{"l":9,"x":800,"y":0.697},{"l":9,"x":1200,"y":0.636},{"l":9,"x":1600,"y":0.604},{"l":9,"x":2000,"y":0.589},{"l":9,"x":3000,"y":0.576},{"l":9,"x":4000,"y":0.573},{"l":9,"x":6000,"y":0.571},
{"l":10,"x":0,"y":0.775},{"l":10,"x":400,"y":0.75},{"l":10,"x":500,"y":0.728},{"l":10,"x":800,"y":0.682},{"l":10,"x":1200,"y":0.626},{"l":10,"x":1600,"y":0.597},{"l":10,"x":2000,"y":0.584},{"l":10,"x":3000,"y":0.573},{"l":10,"x":4000,"y":0.57},{"l":10,"x":6000,"y":0.569},
{"l":11,"x":0,"y":0.765},{"l":11,"x":400,"y":0.74},{"l":11,"x":500,"y":0.712},{"l":11,"x":800,"y":0.668},{"l":11,"x":1200,"y":0.617},{"l":11,"x":1600,"y":0.591},{"l":11,"x":2000,"y":0.58},{"l":11,"x":3000,"y":0.57},{"l":11,"x":4000,"y":0.568},{"l":11,"x":6000,"y":0.567},
{"l":12,"x":0,"y":0.755},{"l":12,"x":400,"y":0.73},{"l":12,"x":500,"y":0.698},{"l":12,"x":800,"y":0.655},{"l":12,"x":1200,"y":0.608},{"l":12,"x":1600,"y":0.586},{"l":12,"x":2000,"y":0.576},{"l":12,"x":3000,"y":0.568},{"l":12,"x":4000,"y":0.566},{"l":12,"x":6000,"y":0.565},
{"l":13,"x":0,"y":0.745},{"l":13,"x":400,"y":0.72},{"l":13,"x":500,"y":0.685},{"l":13,"x":800,"y":0.643},{"l":13,"x":1200,"y":0.6},{"l":13,"x":1600,"y":0.58},{"l":13,"x":2000,"y":0.572},{"l":13,"x":3000,"y":0.566},{"l":13,"x":4000,"y":0.564},{"l":13,"x":6000,"y":0.563},
{"l":14,"x":0,"y":0.735},{"l":14,"x":400,"y":0.71},{"l":14,"x":500,"y":0.67},{"l":14,"x":800,"y":0.632},{"l":14,"x":1200,"y":0.593},{"l":14,"x":1600,"y":0.576},{"l":14,"x":2000,"y":0.569},{"l":14,"x":3000,"y":0.564},{"l":14,"x":4000,"y":0.562},{"l":14,"x":6000,"y":0.561},
{"l":15,"x":0,"y":0.725},{"l":15,"x":400,"y":0.7},{"l":15,"x":500,"y":0.657},{"l":15,"x":800,"y":0.621},{"l":15,"x":1200,"y":0.587},{"l":15,"x":1600,"y":0.572},{"l":15,"x":2000,"y":0.566},{"l":15,"x":3000,"y":0.562},{"l":15,"x":4000,"y":0.56},{"l":15,"x":6000,"y":0.559},
{"l":16,"x":0,"y":0.715},{"l":16,"x":400,"y":0.69},{"l":16,"x":500,"y":0.644},{"l":16,"x":800,"y":0.611},{"l":16,"x":1200,"y":0.581},{"l":16,"x":1600,"y":0.568},{"l":16,"x":2000,"y":0.563},{"l":16,"x":3000,"y":0.56},{"l":16,"x":4000,"y":0.558},{"l":16,"x":6000,"y":0.557},
{"l":17,"x":0,"y":0.705},{"l":17,"x":400,"y":0.68},{"l":17,"x":500,"y":0.632},{"l":17,"x":800,"y":0.601},{"l":17,"x":1200,"y":0.576},{"l":17,"x":1600,"y":0.565},{"l":17,"x":2000,"y":0.561},{"l":17,"x":3000,"y":0.558},{"l":17,"x":4000,"y":0.556},{"l":17,"x":6000,"y":0.555},
{"l":18,"x":0,"y":0.695},{"l":18,"x":400,"y":0.668},{"l":18,"x":500,"y":0.62},{"l":18,"x":800,"y":0.593},{"l":18,"x":1200,"y":0.571},{"l":18,"x":1600,"y":0.562},{"l":18,"x":2000,"y":0.558},{"l":18,"x":3000,"y":0.555},{"l":18,"x":4000,"y":0.553},{"l":18,"x":6000,"y":0.552},
{"l":19,"x":0,"y":0.69},{"l":19,"x":400,"y":0.66},{"l":19,"x":500,"y":0.61},{"l":19,"x":800,"y":0.585},{"l":19,"x":1200,"y":0.566},{"l":19,"x":1600,"y":0.558},{"l":19,"x":2000,"y":0.555},{"l":19,"x":3000,"y":0.552},{"l":19,"x":4000,"y":0.55},{"l":19,"x":6000,"y":0.549},
{"l":20,"x":0,"y":0.685},{"l":20,"x":400,"y":0.652},{"l":20,"x":500,"y":0.598},{"l":20,"x":800,"y":0.576},{"l":20,"x":1200,"y":0.56},{"l":20,"x":1600,"y":0.553},{"l":20,"x":2000,"y":0.55},{"l":20,"x":3000,"y":0.547},{"l":20,"x":4000,"y":0.546},{"l":20,"x":6000,"y":0.545},
{"l":21,"x":0,"y":0.68},{"l":21,"x":400,"y":0.645},{"l":21,"x":500,"y":0.588},{"l":21,"x":800,"y":0.568},{"l":21,"x":1200,"y":0.553},{"l":21,"x":1600,"y":0.546},{"l":21,"x":2000,"y":0.544},{"l":21,"x":3000,"y":0.542},{"l":21,"x":4000,"y":0.541},{"l":21,"x":6000,"y":0.54},
{"l":22,"x":0,"y":0.67},{"l":22,"x":400,"y":0.635},{"l":22,"x":500,"y":0.58},{"l":22,"x":800,"y":0.56},{"l":22,"x":1200,"y":0.545},{"l":22,"x":1600,"y":0.538},{"l":22,"x":2000,"y":0.536},{"l":22,"x":3000,"y":0.535},{"l":22,"x":4000,"y":0.535},{"l":22,"x":6000,"y":0.534},
{"l":23,"x":0,"y":0.64},{"l":23,"x":400,"y":0.598},{"l":23,"x":500,"y":0.553},{"l":23,"x":700,"y":0.54},{"l":23,"x":1000,"y":0.528},{"l":23,"x":1400,"y":0.515},{"l":23,"x":2000,"y":0.508},{"l":23,"x":3000,"y":0.513},{"l":23,"x":4000,"y":0.516},{"l":23,"x":5000,"y":0.525},{"l":23,"x":6000,"y":0.545}
],
"g":[
{"l":0,"x":0,"y":0.67},{"l":0,"x":100,"y":0.63},{"l":0,"x":200,"y":0.625},{"l":0,"x":300,"y":0.635},{"l":0,"x":400,"y":0.63},{"l":0,"x":500,"y":0.625},{"l":0,"x":600,"y":0.625},{"l":0,"x":700,"y":0.61},{"l":0,"x":800,"y":0.59},{"l":0,"x":900,"y":0.6},{"l":0,"x":1000,"y":0.615},{"l":0,"x":1100,"y":0.62},{"l":0,"x":1200,"y":0.61},{"l":0,"x":1300,"y":0.595},{"l":0,"x":1400,"y":0.585},{"l":0,"x":1500,"y":0.59},{"l":0,"x":1600,"y":0.615},{"l":0,"x":1700,"y":0.61},{"l":0,"x":1800,"y":0.59},{"l":0,"x":1900,"y":0.575},{"l":0,"x":2000,"y":0.57},{"l":0,"x":2200,"y":0.565},{"l":0,"x":2500,"y":0.56},{"l":0,"x":2800,"y":0.565},{"l":0,"x":3000,"y":0.57},{"l":0,"x":3200,"y":0.56},{"l":0,"x":3400,"y":0.565},{"l":0,"x":3600,"y":0.555},{"l":0,"x":3800,"y":0.56},{"l":0,"x":4000,"y":0.55},{"l":0,"x":4200,"y":0.555},{"l":0,"x":4400,"y":0.54},{"l":0,"x":4600,"y":0.545},{"l":0,"x":5000,"y":0.54},{"l":0,"x":5500,"y":0.54},{"l":0,"x":6000,"y":0.53},
{"l":1,"x":0,"y":0.6},{"l":1,"x":100,"y":0.58},{"l":1,"x":200,"y":0.58},{"l":1,"x":300,"y":0.565},{"l":1,"x":400,"y":0.57},{"l":1,"x":500,"y":0.55},{"l":1,"x":600,"y":0.52},{"l":1,"x":700,"y":0.52},{"l":1,"x":800,"y":0.56},{"l":1,"x":900,"y":0.565},{"l":1,"x":1000,"y":0.572},{"l":1,"x":1100,"y":0.58},{"l":1,"x":1200,"y":0.59},{"l":1,"x":1300,"y":0.58},{"l":1,"x":1400,"y":0.57},{"l":1,"x":1500,"y":0.555},{"l":1,"x":1600,"y":0.548},{"l":1,"x":1700,"y":0.545},{"l":1,"x":1800,"y":0.55},{"l":1,"x":2000,"y":0.553},{"l":1,"x":2200,"y":0.55},{"l":1,"x":2500,"y":0.548},{"l":1,"x":3000,"y":0.545},{"l":1,"x":3500,"y":0.545},{"l":1,"x":4000,"y":0.54},{"l":1,"x":4500,"y":0.535},{"l":1,"x":5000,"y":0.54},{"l":1,"x":5500,"y":0.538},{"l":1,"x":6000,"y":0.535},
{"l":2,"x":0,"y":0.625},{"l":2,"x":100,"y":0.6},{"l":2,"x":200,"y":0.6},{"l":2,"x":300,"y":0.615},{"l":2,"x":400,"y":0.6},{"l":2,"x":500,"y":0.585},{"l":2,"x":600,"y":0.58},{"l":2,"x":700,"y":0.59},{"l":2,"x":800,"y":0.605},{"l":2,"x":900,"y":0.61},{"l":2,"x":1000,"y":0.605},{"l":2,"x":1100,"y":0.595},{"l":2,"x":1200,"y":0.59},{"l":2,"x":1300,"y":0.585},{"l":2,"x":1400,"y":0.575},{"l":2,"x":1500,"y":0.57},{"l":2,"x":1600,"y":0.568},{"l":2,"x":1700,"y":0.56},{"l":2,"x":1800,"y":0.552},{"l":2,"x":1900,"y":0.555},{"l":2,"x":2000,"y":0.555},{"l":2,"x":2200,"y":0.552},{"l":2,"x":2500,"y":0.548},{"l":2,"x":2800,"y":0.55},{"l":2,"x":3000,"y":0.548},{"l":2,"x":3500,"y":0.545},{"l":2,"x":4000,"y":0.545},{"l":2,"x":4500,"y":0.54},{"l":2,"x":5000,"y":0.542},{"l":2,"x":5500,"y":0.54},{"l":2,"x":6000,"y":0.545},
{"l":3,"x":0,"y":0.7},{"l":3,"x":100,"y":0.69},{"l":3,"x":200,"y":0.68},{"l":3,"x":300,"y":0.665},{"l":3,"x":400,"y":0.66},{"l":3,"x":500,"y":0.655},{"l":3,"x":600,"y":0.66},{"l":3,"x":700,"y":0.66},{"l":3,"x":800,"y":0.64},{"l":3,"x":900,"y":0.62},{"l":3,"x":1000,"y":0.605},{"l":3,"x":1100,"y":0.59},{"l":3,"x":1200,"y":0.58},{"l":3,"x":1300,"y":0.575},{"l":3,"x":1400,"y":0.57},{"l":3,"x":1500,"y":0.565},{"l":3,"x":1600,"y":0.565},{"l":3,"x":1800,"y":0.563},{"l":3,"x":2000,"y":0.56},{"l":3,"x":2500,"y":0.56},{"l":3,"x":3000,"y":0.558},{"l":3,"x":4000,"y":0.557},{"l":3,"x":5000,"y":0.556},{"l":3,"x":6000,"y":0.556},
{"l":4,"x":0,"y":0.73},{"l":4,"x":200,"y":0.72},{"l":4,"x":400,"y":0.7},{"l":4,"x":600,"y":0.675},{"l":4,"x":800,"y":0.64},{"l":4,"x":1000,"y":0.61},{"l":4,"x":1200,"y":0.59},{"l":4,"x":1400,"y":0.575},{"l":4,"x":1600,"y":0.568},{"l":4,"x":2000,"y":0.566},{"l":4,"x":3000,"y":0.566},{"l":4,"x":4000,"y":0.566},{"l":4,"x":6000,"y":0.565},
{"l":5,"x":0,"y":0.75},{"l":5,"x":100,"y":0.755},{"l":5,"x":200,"y":0.745},{"l":5,"x":400,"y":0.72},{"l":5,"x":600,"y":0.69},{"l":5,"x":800,"y":0.655},{"l":5,"x":1000,"y":0.62},{"l":5,"x":1200,"y":0.593},{"l":5,"x":1400,"y":0.578},{"l":5,"x":1600,"y":0.573},{"l":5,"x":2000,"y":0.573},{"l":5,"x":3000,"y":0.573},{"l":5,"x":4000,"y":0.573},{"l":5,"x":6000,"y":0.573},
{"l":6,"x":0,"y":0.745},{"l":6,"x":200,"y":0.735},{"l":6,"x":400,"y":0.715},{"l":6,"x":600,"y":0.685},{"l":6,"x":800,"y":0.65},{"l":6,"x":1000,"y":0.615},{"l":6,"x":1200,"y":0.595},{"l":6,"x":1400,"y":0.585},{"l":6,"x":1600,"y":0.58},{"l":6,"x":2000,"y":0.58},{"l":6,"x":3000,"y":0.58},{"l":6,"x":4000,"y":0.58},{"l":6,"x":6000,"y":0.58},
{"l":7,"x":0,"y":0.735},{"l":7,"x":200,"y":0.725},{"l":7,"x":400,"y":0.71},{"l":7,"x":600,"y":0.68},{"l":7,"x":800,"y":0.65},{"l":7,"x":1000,"y":0.62},{"l":7,"x":1200,"y":0.6},{"l":7,"x":1400,"y":0.59},{"l":7,"x":1600,"y":0.587},{"l":7,"x":2000,"y":0.587},{"l":7,"x":3000,"y":0.587},{"l":7,"x":4000,"y":0.587},{"l":7,"x":6000,"y":0.587},
{"l":8,"x":0,"y":0.72},{"l":8,"x":200,"y":0.71},{"l":8,"x":400,"y":0.695},{"l":8,"x":600,"y":0.675},{"l":8,"x":800,"y":0.645},{"l":8,"x":1000,"y":0.62},{"l":8,"x":1200,"y":0.605},{"l":8,"x":1400,"y":0.597},{"l":8,"x":1600,"y":0.594},{"l":8,"x":2000,"y":0.594},{"l":8,"x":3000,"y":0.594},{"l":8,"x":4000,"y":0.594},{"l":8,"x":6000,"y":0.594},
{"l":9,"x":0,"y":0.71},{"l":9,"x":200,"y":0.7},{"l":9,"x":400,"y":0.69},{"l":9,"x":600,"y":0.67},{"l":9,"x":800,"y":0.645},{"l":9,"x":1000,"y":0.625},{"l":9,"x":1200,"y":0.61},{"l":9,"x":1400,"y":0.603},{"l":9,"x":1600,"y":0.6},{"l":9,"x":2000,"y":0.6},{"l":9,"x":3000,"y":0.6},{"l":9,"x":4000,"y":0.6},{"l":9,"x":6000,"y":0.6},
{"l":10,"x":0,"y":0.7},{"l":10,"x":200,"y":0.695},{"l":10,"x":400,"y":0.685},{"l":10,"x":600,"y":0.67},{"l":10,"x":800,"y":0.65},{"l":10,"x":1000,"y":0.63},{"l":10,"x":1200,"y":0.617},{"l":10,"x":1400,"y":0.61},{"l":10,"x":1600,"y":0.606},{"l":10,"x":2000,"y":0.605},{"l":10,"x":3000,"y":0.605},{"l":10,"x":4000,"y":0.605},{"l":10,"x":6000,"y":0.605},
{"l":11,"x":0,"y":0.79},{"l":11,"x":200,"y":0.765},{"l":11,"x":400,"y":0.74},{"l":11,"x":600,"y":0.715},{"l":11,"x":800,"y":0.69},{"l":11,"x":1000,"y":0.67},{"l":11,"x":1200,"y":0.655},{"l":11,"x":1400,"y":0.643},{"l":11,"x":1600,"y":0.635},{"l":11,"x":2000,"y":0.625},{"l":11,"x":3000,"y":0.616},{"l":11,"x":4000,"y":0.614},{"l":11,"x":6000,"y":0.612},
{"l":12,"x":0,"y":0.8},{"l":12,"x":200,"y":0.775},{"l":12,"x":400,"y":0.75},{"l":12,"x":600,"y":0.725},{"l":12,"x":800,"y":0.7},{"l":12,"x":1000,"y":0.68},{"l":12,"x":1200,"y":0.665},{"l":12,"x":1400,"y":0.652},{"l":12,"x":1600,"y":0.643},{"l":12,"x":2000,"y":0.632},{"l":12,"x":3000,"y":0.622},{"l":12,"x":4000,"y":0.619},{"l":12,"x":6000,"y":0.617},
{"l":13,"x":0,"y":0.81},{"l":13,"x":200,"y":0.785},{"l":13,"x":400,"y":0.76},{"l":13,"x":600,"y":0.735},{"l":13,"x":800,"y":0.712},{"l":13,"x":1000,"y":0.692},{"l":13,"x":1200,"y":0.676},{"l":13,"x":1400,"y":0.662},{"l":13,"x":1600,"y":0.652},{"l":13,"x":2000,"y":0.64},{"l":13,"x":3000,"y":0.63},{"l":13,"x":4000,"y":0.627},{"l":13,"x":6000,"y":0.625},
{"l":14,"x":0,"y":0.815},{"l":14,"x":200,"y":0.795},{"l":14,"x":400,"y":0.77},{"l":14,"x":600,"y":0.745},{"l":14,"x":800,"y":0.725},{"l":14,"x":1000,"y":0.705},{"l":14,"x":1200,"y":0.688},{"l":14,"x":1400,"y":0.672},{"l":14,"x":1600,"y":0.66},{"l":14,"x":2000,"y":0.648},{"l":14,"x":3000,"y":0.637},{"l":14,"x":4000,"y":0.634},{"l":14,"x":6000,"y":0.632},
{"l":15,"x":0,"y":0.825},{"l":15,"x":200,"y":0.805},{"l":15,"x":400,"y":0.78},{"l":15,"x":600,"y":0.76},{"l":15,"x":800,"y":0.74},{"l":15,"x":1000,"y":0.72},{"l":15,"x":1200,"y":0.7},{"l":15,"x":1400,"y":0.685},{"l":15,"x":1600,"y":0.672},{"l":15,"x":2000,"y":0.658},{"l":15,"x":3000,"y":0.645},{"l":15,"x":4000,"y":0.641},{"l":15,"x":6000,"y":0.638},
{"l":16,"x":0,"y":0.835},{"l":16,"x":200,"y":0.815},{"l":16,"x":400,"y":0.79},{"l":16,"x":600,"y":0.77},{"l":16,"x":800,"y":0.75},{"l":16,"x":1000,"y":0.73},{"l":16,"x":1200,"y":0.71},{"l":16,"x":1400,"y":0.695},{"l":16,"x":1600,"y":0.682},{"l":16,"x":2000,"y":0.668},{"l":16,"x":3000,"y":0.652},{"l":16,"x":4000,"y":0.646},{"l":16,"x":6000,"y":0.64},
{"l":17,"x":0,"y":0.845},{"l":17,"x":200,"y":0.825},{"l":17,"x":400,"y":0.8},{"l":17,"x":600,"y":0.78},{"l":17,"x":800,"y":0.76},{"l":17,"x":1000,"y":0.74},{"l":17,"x":1200,"y":0.72},{"l":17,"x":1400,"y":0.705},{"l":17,"x":1600,"y":0.693},{"l":17,"x":2000,"y":0.678},{"l":17,"x":3000,"y":0.662},{"l":17,"x":4000,"y":0.655},{"l":17,"x":6000,"y":0.648},
{"l":18,"x":0,"y":0.855},{"l":18,"x":200,"y":0.835},{"l":18,"x":400,"y":0.81},{"l":18,"x":500,"y":0.8},{"l":18,"x":600,"y":0.79},{"l":18,"x":800,"y":0.77},{"l":18,"x":1000,"y":0.745},{"l":18,"x":1200,"y":0.73},{"l":18,"x":1400,"y":0.71},{"l":18,"x":1600,"y":0.7},{"l":18,"x":1800,"y":0.69},{"l":18,"x":2000,"y":0.683},{"l":18,"x":3000,"y":0.668},{"l":18,"x":4000,"y":0.661},{"l":18,"x":6000,"y":0.653},
{"l":19,"x":0,"y":0.86},{"l":19,"x":200,"y":0.84},{"l":19,"x":400,"y":0.815},{"l":19,"x":500,"y":0.8},{"l":19,"x":600,"y":0.785},{"l":19,"x":800,"y":0.765},{"l":19,"x":1000,"y":0.745},{"l":19,"x":1200,"y":0.72},{"l":19,"x":1400,"y":0.72},{"l":19,"x":1600,"y":0.715},{"l":19,"x":1800,"y":0.7},{"l":19,"x":2000,"y":0.69},{"l":19,"x":3000,"y":0.672},{"l":19,"x":4000,"y":0.665},{"l":19,"x":6000,"y":0.657},
{"l":20,"x":0,"y":0.875},{"l":20,"x":100,"y":0.855},{"l":20,"x":200,"y":0.845},{"l":20,"x":300,"y":0.83},{"l":20,"x":400,"y":0.8},{"l":20,"x":500,"y":0.79},{"l":20,"x":600,"y":0.775},{"l":20,"x":700,"y":0.765},{"l":20,"x":800,"y":0.75},{"l":20,"x":900,"y":0.73},{"l":20,"x":1000,"y":0.72},{"l":20,"x":1100,"y":0.745},{"l":20,"x":1200,"y":0.73},{"l":20,"x":1300,"y":0.72},{"l":20,"x":1400,"y":0.74},{"l":20,"x":1500,"y":0.735},{"l":20,"x":1600,"y":0.72},{"l":20,"x":1800,"y":0.71},{"l":20,"x":2000,"y":0.7},{"l":20,"x":2500,"y":0.685},{"l":20,"x":3000,"y":0.678},{"l":20,"x":4000,"y":0.672},{"l":20,"x":5000,"y":0.665},{"l":20,"x":6000,"y":0.662},
{"l":21,"x":0,"y":0.885},{"l":21,"x":100,"y":0.86},{"l":21,"x":200,"y":0.855},{"l":21,"x":300,"y":0.835},{"l":21,"x":400,"y":0.81},{"l":21,"x":500,"y":0.775},{"l":21,"x":600,"y":0.76},{"l":21,"x":700,"y":0.745},{"l":21,"x":800,"y":0.725},{"l":21,"x":900,"y":0.675},{"l":21,"x":1000,"y":0.715},{"l":21,"x":1100,"y":0.74},{"l":21,"x":1200,"y":0.76},{"l":21,"x":1300,"y":0.775},{"l":21,"x":1400,"y":0.778},{"l":21,"x":1500,"y":0.77},{"l":21,"x":1600,"y":0.758},{"l":21,"x":1700,"y":0.742},{"l":21,"x":1800,"y":0.735},{"l":21,"x":1900,"y":0.72},{"l":21,"x":2000,"y":0.725},{"l":21,"x":2200,"y":0.712},{"l":21,"x":2500,"y":0.705},{"l":21,"x":2700,"y":0.69},{"l":21,"x":3000,"y":0.686},{"l":21,"x":3500,"y":0.684},{"l":21,"x":4000,"y":0.68},{"l":21,"x":4300,"y":0.685},{"l":21,"x":4500,"y":0.676},{"l":21,"x":5000,"y":0.672},{"l":21,"x":5500,"y":0.668},{"l":21,"x":6000,"y":0.66},
{"l":22,"x":0,"y":0.912},{"l":22,"x":100,"y":0.87},{"l":22,"x":200,"y":0.862},{"l":22,"x":300,"y":0.82},{"l":22,"x":400,"y":0.815},{"l":22,"x":500,"y":0.745},{"l":22,"x":600,"y":0.76},{"l":22,"x":700,"y":0.775},{"l":22,"x":800,"y":0.73},{"l":22,"x":900,"y":0.7},{"l":22,"x":1000,"y":0.73},{"l":22,"x":1100,"y":0.7},{"l":22,"x":1200,"y":0.72},{"l":22,"x":1300,"y":0.7},{"l":22,"x":1400,"y":0.745},{"l":22,"x":1500,"y":0.752},{"l":22,"x":1600,"y":0.735},{"l":22,"x":1700,"y":0.74},{"l":22,"x":1800,"y":0.72},{"l":22,"x":1900,"y":0.73},{"l":22,"x":2000,"y":0.715},{"l":22,"x":2200,"y":0.708},{"l":22,"x":2500,"y":0.7},{"l":22,"x":2700,"y":0.69},{"l":22,"x":3000,"y":0.683},{"l":22,"x":3500,"y":0.68},{"l":22,"x":4000,"y":0.675},{"l":22,"x":4500,"y":0.672},{"l":22,"x":5000,"y":0.668},{"l":22,"x":5500,"y":0.665},{"l":22,"x":6000,"y":0.665},
{"l":23,"x":0,"y":0.777},{"l":23,"x":100,"y":0.788},{"l":23,"x":200,"y":0.79},{"l":23,"x":400,"y":0.79},{"l":23,"x":500,"y":0.745},{"l":23,"x":600,"y":0.758},{"l":23,"x":700,"y":0.772},{"l":23,"x":800,"y":0.8},{"l":23,"x":900,"y":0.76},{"l":23,"x":1000,"y":0.76},{"l":23,"x":1100,"y":0.745},{"l":23,"x":1300,"y":0.758},{"l":23,"x":1400,"y":0.785},{"l":23,"x":1500,"y":0.798},{"l":23,"x":1600,"y":0.785},{"l":23,"x":1700,"y":0.772},{"l":23,"x":1800,"y":0.797},{"l":23,"x":1900,"y":0.786},{"l":23,"x":2000,"y":0.793},{"l":23,"x":2100,"y":0.785},{"l":23,"x":2200,"y":0.765},{"l":23,"x":2300,"y":0.74},{"l":23,"x":2500,"y":0.715},{"l":23,"x":2600,"y":0.712},{"l":23,"x":2800,"y":0.722},{"l":23,"x":3000,"y":0.728},{"l":23,"x":3100,"y":0.738},{"l":23,"x":3200,"y":0.733},{"l":23,"x":3300,"y":0.725},{"l":23,"x":3500,"y":0.748},{"l":23,"x":3700,"y":0.735},{"l":23,"x":3900,"y":0.72},{"l":23,"x":4000,"y":0.705},{"l":23,"x":4100,"y":0.71},{"l":23,"x":4200,"y":0.725},{"l":23,"x":4400,"y":0.7},{"l":23,"x":4600,"y":0.715},{"l":23,"x":4800,"y":0.735},{"l":23,"x":5000,"y":0.725},{"l":23,"x":5100,"y":0.73},{"l":23,"x":5300,"y":0.742},{"l":23,"x":5400,"y":0.735},{"l":23,"x":5600,"y":0.723},{"l":23,"x":5800,"y":0.728},{"l":23,"x":6000,"y":0.72}
]
},
"resolve":{"scale":{"color":"independent"},"legend":{"color":"independent"}},
"bounds":"flush",
"spacing":733,
"vconcat":[
{"bounds":"flush","spacing":144,"resolve":{"scale":{"color":"independent"},"legend":{"color":"independent"}},
"hconcat":[
{"width":744,"height":499,"title":"(a) Attention-Output Proj.",
"encoding":{"x":{"field":"x","type":"quantitative","scale":{"domain":[0,6000],"nice":false,"zero":false},"axis":{"values":[0,1000,2000,3000,4000,5000,6000],"format":"d","title":"Training Iteration","labelPadding":4,"titlePadding":5}},"y":{"field":"y","type":"quantitative","scale":{"domain":[0.4,1.05],"nice":false,"zero":false},"axis":{"values":[0.4,0.5,0.6,0.7,0.8,0.9,1.0],"format":".1f","title":"Energy Ratio Rₜ","labelPadding":7,"titleX":-65,"titleBaseline":"alphabetic"}}},
"layer":[
{"data":{"name":"a"},"mark":{"type":"line","strokeWidth":2.6},"encoding":{"color":{"field":"l","type":"nominal","scale":{"domain":[0,1,2,3,4,5,6,7,8,9,10,11,12,13,14,15,16,17,18,19,20,21,22,23],"range":["#3b4cc0","#485fd1","#5571df","#6484eb","#7295f4","#82a5fb","#91b4fe","#a0c1fe","#afccfc","#bdd3f6","#cad8ee","#d7dbe4","#e2d9d4","#ecd2c4","#f2c8b3","#f7bca2","#f7ae91","#f59e7f","#f08c6e","#e6795d","#da644e","#ca4d41","#b73135","#b40426"]},"legend":null}}},
{"data":{"name":"brk"},"mark":{"type":"rule","strokeWidth":2.5,"color":"black"},"encoding":{"x2":{"field":"x2"},"y2":{"field":"y2"}}}
]},
{"width":744,"height":499,"title":"(b) Attention-Value Proj.",
"encoding":{"x":{"field":"x","type":"quantitative","scale":{"domain":[0,6000],"nice":false,"zero":false},"axis":{"values":[0,1000,2000,3000,4000,5000,6000],"format":"d","title":"Training Iteration","labelPadding":4,"titlePadding":5}},"y":{"field":"y","type":"quantitative","scale":{"domain":[0.4,1.05],"nice":false,"zero":false},"axis":{"values":[0.4,0.5,0.6,0.7,0.8,0.9,1.0],"format":".1f","title":"Energy Ratio Rₜ","labelPadding":7,"titleX":-65,"titleBaseline":"alphabetic"}}},
"layer":[
{"data":{"name":"b"},"mark":{"type":"line","strokeWidth":2.6},"encoding":{"color":{"field":"l","type":"nominal","scale":{"domain":[0,1,2,3,4,5,6,7,8,9,10,11,12,13,14,15,16,17,18,19,20,21,22,23],"range":["#3b4cc0","#485fd1","#5571df","#6484eb","#7295f4","#82a5fb","#91b4fe","#a0c1fe","#afccfc","#bdd3f6","#cad8ee","#d7dbe4","#e2d9d4","#ecd2c4","#f2c8b3","#f7bca2","#f7ae91","#f59e7f","#f08c6e","#e6795d","#da644e","#ca4d41","#b73135","#b40426"]},"legend":null}}},
{"data":{"name":"brk"},"mark":{"type":"rule","strokeWidth":2.5,"color":"black"},"encoding":{"x2":{"field":"x2"},"y2":{"field":"y2"}}}
]},
{"width":744,"height":499,"title":"(c) Attention-Query Proj.",
"encoding":{"x":{"field":"x","type":"quantitative","scale":{"domain":[0,6000],"nice":false,"zero":false},"axis":{"values":[0,1000,2000,3000,4000,5000,6000],"format":"d","title":"Training Iteration","labelPadding":4,"titlePadding":5}},"y":{"field":"y","type":"quantitative","scale":{"domain":[0.4,1.05],"nice":false,"zero":false},"axis":{"values":[0.4,0.5,0.6,0.7,0.8,0.9,1.0],"format":".1f","title":"Energy Ratio Rₜ","labelPadding":7,"titleX":-65,"titleBaseline":"alphabetic"}}},
"layer":[
{"data":{"name":"c"},"mark":{"type":"line","strokeWidth":2.6},"encoding":{"color":{"field":"l","type":"nominal","scale":{"domain":[0,1,2,3,4,5,6,7,8,9,10,11,12,13,14,15,16,17,18,19,20,21,22,23],"range":["#3b4cc0","#485fd1","#5571df","#6484eb","#7295f4","#82a5fb","#91b4fe","#a0c1fe","#afccfc","#bdd3f6","#cad8ee","#d7dbe4","#e2d9d4","#ecd2c4","#f2c8b3","#f7bca2","#f7ae91","#f59e7f","#f08c6e","#e6795d","#da644e","#ca4d41","#b73135","#b40426"]},"legend":null}}},
{"data":{"name":"brk"},"mark":{"type":"rule","strokeWidth":2.5,"color":"black"},"encoding":{"x2":{"field":"x2"},"y2":{"field":"y2"}}}
]},
{"width":744,"height":499,"title":"(d) Attention-Key Proj.",
"encoding":{"x":{"field":"x","type":"quantitative","scale":{"domain":[0,6000],"nice":false,"zero":false},"axis":{"values":[0,1000,2000,3000,4000,5000,6000],"format":"d","title":"Training Iteration","labelPadding":4,"titlePadding":5}},"y":{"field":"y","type":"quantitative","scale":{"domain":[0.4,1.05],"nice":false,"zero":false},"axis":{"values":[0.4,0.5,0.6,0.7,0.8,0.9,1.0],"format":".1f","title":"Energy Ratio Rₜ","labelPadding":7,"titleX":-65,"titleBaseline":"alphabetic"}}},
"layer":[
{"data":{"name":"d"},"mark":{"type":"line","strokeWidth":2.6},"encoding":{"color":{"field":"l","type":"nominal","scale":{"domain":[0,1,2,3,4,5,6,7,8,9,10,11,12,13,14,15,16,17,18,19,20,21,22,23],"range":["#3b4cc0","#485fd1","#5571df","#6484eb","#7295f4","#82a5fb","#91b4fe","#a0c1fe","#afccfc","#bdd3f6","#cad8ee","#d7dbe4","#e2d9d4","#ecd2c4","#f2c8b3","#f7bca2","#f7ae91","#f59e7f","#f08c6e","#e6795d","#da644e","#ca4d41","#b73135","#b40426"]},"legend":null}}},
{"data":{"name":"brk"},"mark":{"type":"rule","strokeWidth":2.5,"color":"black"},"encoding":{"x2":{"field":"x2"},"y2":{"field":"y2"}}}
]}
]},
{"bounds":"flush","spacing":144,"resolve":{"scale":{"color":"independent"},"legend":{"color":"independent"}},
"hconcat":[
{"width":744,"height":499,"title":"(e) MLP-Gate Proj.",
"encoding":{"x":{"field":"x","type":"quantitative","scale":{"domain":[0,6000],"nice":false,"zero":false},"axis":{"values":[0,1000,2000,3000,4000,5000,6000],"format":"d","title":"Training Iteration","labelPadding":4,"titlePadding":5}},"y":{"field":"y","type":"quantitative","scale":{"domain":[0.4,1.05],"nice":false,"zero":false},"axis":{"values":[0.4,0.5,0.6,0.7,0.8,0.9,1.0],"format":".1f","title":"Energy Ratio Rₜ","labelPadding":7,"titleX":-65,"titleBaseline":"alphabetic"}}},
"layer":[
{"data":{"name":"e"},"mark":{"type":"line","strokeWidth":2.6},"encoding":{"color":{"field":"l","type":"nominal","scale":{"domain":[0,1,2,3,4,5,6,7,8,9,10,11,12,13,14,15,16,17,18,19,20,21,22,23],"range":["#3b4cc0","#485fd1","#5571df","#6484eb","#7295f4","#82a5fb","#91b4fe","#a0c1fe","#afccfc","#bdd3f6","#cad8ee","#d7dbe4","#e2d9d4","#ecd2c4","#f2c8b3","#f7bca2","#f7ae91","#f59e7f","#f08c6e","#e6795d","#da644e","#ca4d41","#b73135","#b40426"]},"legend":null}}},
{"data":{"name":"brk"},"mark":{"type":"rule","strokeWidth":2.5,"color":"black"},"encoding":{"x2":{"field":"x2"},"y2":{"field":"y2"}}}
]},
{"width":744,"height":499,"title":"(f) MLP-Up Proj.",
"encoding":{"x":{"field":"x","type":"quantitative","scale":{"domain":[0,6000],"nice":false,"zero":false},"axis":{"values":[0,1000,2000,3000,4000,5000,6000],"format":"d","title":"Training Iteration","labelPadding":4,"titlePadding":5}},"y":{"field":"y","type":"quantitative","scale":{"domain":[0.4,1.05],"nice":false,"zero":false},"axis":{"values":[0.4,0.5,0.6,0.7,0.8,0.9,1.0],"format":".1f","title":"Energy Ratio Rₜ","labelPadding":7,"titleX":-65,"titleBaseline":"alphabetic"}}},
"layer":[
{"data":{"name":"f"},"mark":{"type":"line","strokeWidth":2.6},"encoding":{"color":{"field":"l","type":"nominal","scale":{"domain":[0,1,2,3,4,5,6,7,8,9,10,11,12,13,14,15,16,17,18,19,20,21,22,23],"range":["#3b4cc0","#485fd1","#5571df","#6484eb","#7295f4","#82a5fb","#91b4fe","#a0c1fe","#afccfc","#bdd3f6","#cad8ee","#d7dbe4","#e2d9d4","#ecd2c4","#f2c8b3","#f7bca2","#f7ae91","#f59e7f","#f08c6e","#e6795d","#da644e","#ca4d41","#b73135","#b40426"]},"legend":null}}},
{"data":{"name":"brk"},"mark":{"type":"rule","strokeWidth":2.5,"color":"black"},"encoding":{"x2":{"field":"x2"},"y2":{"field":"y2"}}}
]},
{"width":744,"height":499,"title":"(g) MLP-Down Proj.",
"encoding":{"x":{"field":"x","type":"quantitative","scale":{"domain":[0,6000],"nice":false,"zero":false},"axis":{"values":[0,1000,2000,3000,4000,5000,6000],"format":"d","title":"Training Iteration","labelPadding":4,"titlePadding":5}},"y":{"field":"y","type":"quantitative","scale":{"domain":[0.4,1.05],"nice":false,"zero":false},"axis":{"values":[0.4,0.5,0.6,0.7,0.8,0.9,1.0],"format":".1f","title":"Energy Ratio Rₜ","labelPadding":7,"titleX":-65,"titleBaseline":"alphabetic"}}},
"layer":[
{"data":{"name":"g"},"mark":{"type":"line","strokeWidth":2.6},"encoding":{"color":{"field":"l","type":"nominal","scale":{"domain":[0,1,2,3,4,5,6,7,8,9,10,11,12,13,14,15,16,17,18,19,20,21,22,23],"range":["#3b4cc0","#485fd1","#5571df","#6484eb","#7295f4","#82a5fb","#91b4fe","#a0c1fe","#afccfc","#bdd3f6","#cad8ee","#d7dbe4","#e2d9d4","#ecd2c4","#f2c8b3","#f7bca2","#f7ae91","#f59e7f","#f08c6e","#e6795d","#da644e","#ca4d41","#b73135","#b40426"]},"legend":null}}},
{"data":{"name":"brk"},"mark":{"type":"rule","strokeWidth":2.5,"color":"black"},"encoding":{"x2":{"field":"x2"},"y2":{"field":"y2"}}}
]},
{"width":744,"height":499,"title":{"text":"(h) Legend","offset":143},"view":{"stroke":null},
"data":{"values":[]},
"mark":{"type":"rule","strokeWidth":3},
"encoding":{"color":{"field":"l","type":"nominal","scale":{"domain":[0,1,2,3,4,5,6,7,8,9,10,11,12,13,14,15,16,17,18,19,20,21,22,23],"range":["#3b4cc0","#485fd1","#5571df","#6484eb","#7295f4","#82a5fb","#91b4fe","#a0c1fe","#afccfc","#bdd3f6","#cad8ee","#d7dbe4","#e2d9d4","#ecd2c4","#f2c8b3","#f7bca2","#f7ae91","#f59e7f","#f08c6e","#e6795d","#da644e","#ca4d41","#b73135","#b40426"]},
"legend":{"title":"Layer","columns":4,"orient":"none","legendX":-54,"legendY":102,"symbolType":"stroke","symbolSize":4600,"symbolStrokeWidth":3,"labelFontSize":36,"labelFont":"Liberation Serif","labelColor":"#111111","labelOffset":40,"titleFontSize":38,"titleFont":"Liberation Serif","titleFontWeight":"normal","titleColor":"#111111","titleAnchor":"middle","titlePadding":-6,"columnPadding":72,"rowPadding":0}}}}
]}
]
}
